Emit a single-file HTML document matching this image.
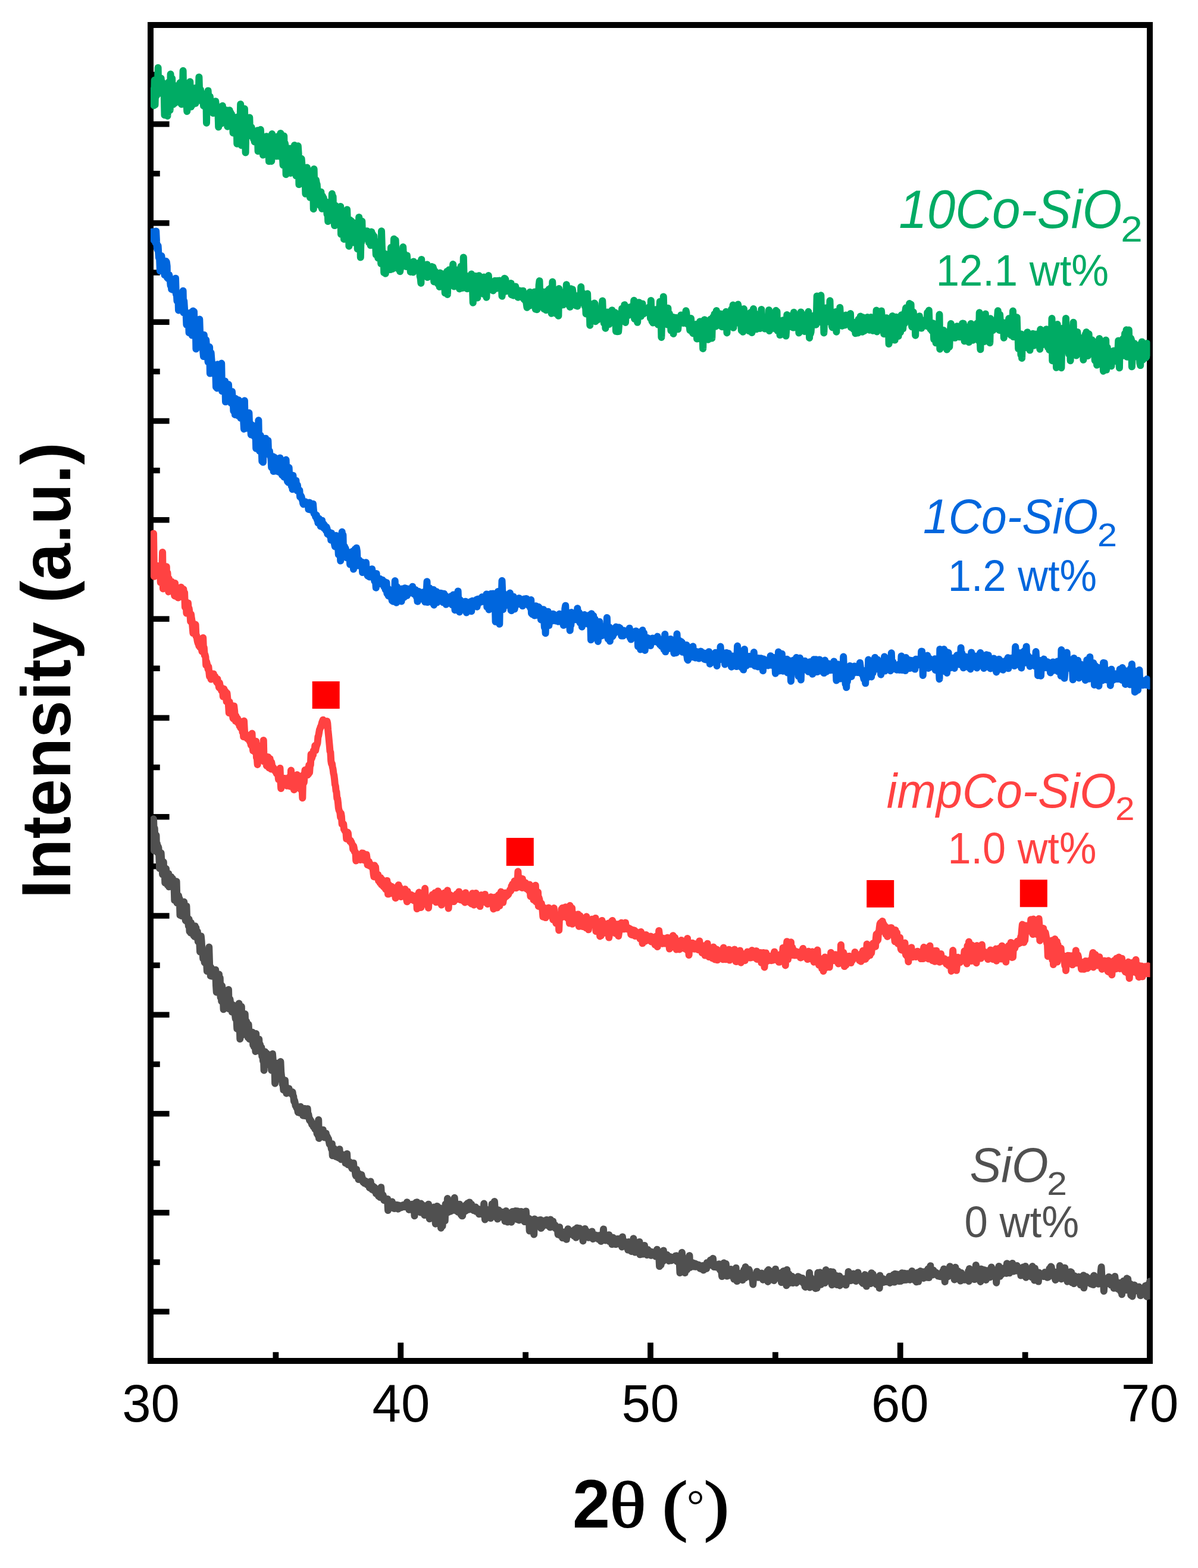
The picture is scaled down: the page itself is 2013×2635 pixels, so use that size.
<!DOCTYPE html>
<html><head><meta charset="utf-8"><title>XRD</title>
<style>
html,body{margin:0;padding:0;background:#fff;}
svg{display:block;}
.t{font-family:"Liberation Sans",Arial,sans-serif;}
.s{font-family:"Liberation Serif","Times New Roman",serif;}
text{font-kerning:none;}
</style></head><body>
<svg xmlns="http://www.w3.org/2000/svg" width="2013" height="2635" viewBox="0 0 2013 2635">
<rect width="2013" height="2635" fill="#fff"/>
<defs><clipPath id="clip"><rect x="253" y="42" width="1679.5" height="2245"/></clipPath></defs>
<rect x="253" y="42" width="1679" height="2245" fill="none" stroke="#000" stroke-width="10"/>
<g fill="#000">
<rect x="258" y="203.85" width="26.6" height="9.5"/>
<rect x="258" y="370.15" width="26.6" height="9.5"/>
<rect x="258" y="536.45" width="26.6" height="9.5"/>
<rect x="258" y="702.75" width="26.6" height="9.5"/>
<rect x="258" y="869.05" width="26.6" height="9.5"/>
<rect x="258" y="1035.35" width="26.6" height="9.5"/>
<rect x="258" y="1201.65" width="26.6" height="9.5"/>
<rect x="258" y="1367.95" width="26.6" height="9.5"/>
<rect x="258" y="1534.25" width="26.6" height="9.5"/>
<rect x="258" y="1700.55" width="26.6" height="9.5"/>
<rect x="258" y="1866.85" width="26.6" height="9.5"/>
<rect x="258" y="2033.15" width="26.6" height="9.5"/>
<rect x="258" y="2199.45" width="26.6" height="9.5"/>
<rect x="258" y="120.70" width="10.75" height="9.5"/>
<rect x="258" y="287.00" width="10.75" height="9.5"/>
<rect x="258" y="453.30" width="10.75" height="9.5"/>
<rect x="258" y="619.60" width="10.75" height="9.5"/>
<rect x="258" y="785.90" width="10.75" height="9.5"/>
<rect x="258" y="952.20" width="10.75" height="9.5"/>
<rect x="258" y="1118.50" width="10.75" height="9.5"/>
<rect x="258" y="1284.80" width="10.75" height="9.5"/>
<rect x="258" y="1451.10" width="10.75" height="9.5"/>
<rect x="258" y="1617.40" width="10.75" height="9.5"/>
<rect x="258" y="1783.70" width="10.75" height="9.5"/>
<rect x="258" y="1950.00" width="10.75" height="9.5"/>
<rect x="258" y="2116.30" width="10.75" height="9.5"/>
<rect x="668.35" y="2256.3" width="9.8" height="26"/>
<rect x="1088.10" y="2256.3" width="9.8" height="26"/>
<rect x="1507.85" y="2256.3" width="9.8" height="26"/>
<rect x="458.48" y="2272.2" width="9.8" height="10"/>
<rect x="878.23" y="2272.2" width="9.8" height="10"/>
<rect x="1297.97" y="2272.2" width="9.8" height="10"/>
<rect x="1717.72" y="2272.2" width="9.8" height="10"/>
</g>
<g clip-path="url(#clip)" fill="none" stroke-width="12" stroke-linejoin="round" stroke-linecap="round">
<path d="M258.0,1376.3 258.8,1399.9 259.0,1429.4 259.7,1391.8 260.5,1410.0 261.4,1407.5 262.2,1418.8 262.5,1403.6 263.0,1424.8 263.9,1417.6 264.7,1432.9 265.6,1422.5 266.4,1424.6 267.2,1435.7 268.1,1459.4 268.9,1432.3 269.0,1457.2 269.8,1453.8 270.6,1433.4 271.4,1447.1 272.3,1452.9 273.1,1469.5 274.0,1458.9 274.8,1448.6 275.0,1460.0 275.6,1460.9 276.5,1462.4 277.3,1483.7 278.2,1462.2 279.0,1460.0 279.8,1468.2 280.7,1471.8 281.5,1487.4 282.4,1473.3 283.2,1468.2 284.0,1490.3 284.9,1475.8 285.7,1480.8 286.6,1478.3 287.4,1473.3 288.2,1485.2 289.1,1488.9 289.9,1476.4 290.5,1484.3 290.8,1483.1 291.6,1479.3 292.4,1483.6 293.3,1513.0 294.1,1506.2 295.0,1494.6 295.8,1504.2 296.6,1481.3 297.5,1517.5 298.3,1506.2 299.2,1516.0 300.0,1505.2 300.8,1509.3 301.7,1510.3 302.5,1538.0 303.4,1515.2 304.2,1518.1 305.0,1539.1 305.9,1534.4 306.7,1521.0 307.6,1520.6 308.4,1533.8 309.2,1515.5 310.1,1527.4 310.9,1542.2 311.8,1547.0 312.6,1528.1 313.4,1522.7 314.3,1549.0 315.1,1549.0 316.0,1545.5 316.8,1556.2 317.6,1544.6 318.5,1565.3 319.3,1562.7 320.2,1567.5 321.0,1550.5 321.8,1568.2 322.7,1564.1 323.5,1567.5 324.4,1565.4 325.2,1572.1 326.0,1571.8 326.9,1573.9 327.7,1556.3 328.6,1567.4 329.4,1559.4 330.2,1573.8 331.1,1576.7 331.9,1566.1 332.8,1582.3 333.6,1579.9 334.4,1581.2 335.3,1584.0 336.1,1599.6 337.0,1585.9 337.8,1573.3 338.6,1581.5 339.5,1599.9 340.3,1597.2 341.2,1611.0 342.0,1610.2 342.8,1609.0 343.7,1617.7 344.5,1605.7 345.4,1610.4 346.2,1611.9 347.0,1615.9 347.9,1632.1 348.7,1627.7 349.6,1629.4 350.4,1624.8 351.2,1591.6 352.1,1620.4 352.9,1626.1 353.8,1640.0 354.6,1626.0 355.4,1630.6 356.3,1640.6 357.1,1629.2 358.0,1639.0 358.8,1636.4 359.6,1636.7 360.5,1640.5 361.3,1639.6 362.2,1629.7 363.0,1656.0 363.8,1667.5 364.7,1655.6 365.5,1645.8 366.4,1652.8 367.2,1658.3 368.0,1637.2 368.9,1662.5 369.7,1643.1 370.6,1676.0 371.4,1654.8 372.2,1682.7 373.1,1656.9 373.9,1664.9 374.8,1674.2 375.6,1696.3 376.4,1672.2 377.3,1678.1 378.1,1668.5 379.0,1677.3 379.8,1670.8 380.6,1689.9 381.5,1681.7 382.3,1674.4 383.2,1684.6 384.0,1663.0 384.8,1695.5 385.7,1685.5 386.5,1679.4 387.4,1686.8 388.2,1692.1 389.0,1689.5 389.9,1700.8 390.7,1689.2 391.6,1688.8 392.4,1691.8 393.2,1691.3 394.1,1697.3 394.9,1705.2 395.8,1712.2 396.6,1705.4 397.4,1711.4 398.3,1728.9 399.1,1711.2 400.0,1695.7 400.8,1713.3 401.6,1686.2 402.5,1716.6 403.3,1746.1 404.2,1715.0 405.0,1732.3 405.8,1691.4 406.7,1739.7 407.5,1710.7 408.4,1729.5 409.2,1717.4 410.0,1720.6 410.9,1713.0 411.7,1703.9 412.6,1731.3 413.4,1732.2 414.2,1716.6 415.1,1731.1 415.9,1724.6 416.8,1743.6 417.6,1721.5 418.4,1734.6 419.3,1746.2 420.1,1735.8 421.0,1739.7 421.8,1745.3 422.6,1743.0 423.5,1748.4 424.3,1734.7 425.2,1756.1 426.0,1743.6 426.8,1759.0 427.7,1750.0 428.5,1752.2 429.4,1766.9 430.2,1737.1 431.0,1761.6 431.9,1747.7 432.7,1761.4 433.6,1747.9 434.4,1755.1 435.2,1746.5 436.1,1765.5 436.9,1754.9 437.8,1759.9 438.6,1768.6 439.4,1760.4 440.3,1775.3 441.1,1765.2 442.0,1782.9 442.8,1773.3 443.6,1798.7 444.5,1773.8 445.3,1767.4 446.2,1772.5 447.0,1788.7 447.8,1788.1 448.7,1770.6 449.5,1771.9 450.4,1773.0 451.2,1781.1 452.0,1773.6 452.9,1785.0 453.7,1779.5 454.6,1791.3 455.4,1780.1 456.2,1798.7 457.1,1784.5 457.9,1771.0 458.8,1782.3 459.6,1797.1 460.4,1785.2 461.3,1789.1 462.1,1820.7 463.0,1795.3 463.8,1800.1 464.6,1800.0 465.5,1800.4 466.3,1812.7 467.2,1786.5 468.0,1803.4 468.8,1806.0 469.7,1811.3 470.5,1813.8 471.4,1784.1 472.2,1801.5 473.0,1809.0 473.9,1812.8 474.7,1822.3 475.6,1822.6 476.4,1831.7 477.2,1818.9 478.1,1820.3 478.9,1815.3 479.8,1831.9 480.6,1832.7 481.4,1837.4 482.3,1829.5 483.1,1833.9 484.0,1829.3 484.8,1834.1 485.6,1829.3 486.5,1834.2 487.3,1835.1 488.2,1834.7 489.0,1837.8 489.8,1837.0 490.7,1836.5 491.5,1835.1 492.4,1841.5 493.2,1842.4 494.0,1850.8 494.9,1849.2 495.7,1852.8 496.6,1858.3 497.4,1857.9 498.2,1861.3 499.1,1860.4 499.9,1864.3 500.8,1869.3 501.6,1862.8 502.4,1864.9 503.3,1870.0 504.1,1862.3 505.0,1859.7 505.8,1864.8 506.6,1869.0 507.5,1865.7 508.3,1863.8 509.2,1874.7 510.0,1866.5 510.8,1866.7 511.7,1862.9 512.5,1867.4 513.4,1875.2 514.2,1868.1 515.0,1870.6 515.9,1875.0 516.7,1863.3 517.6,1875.3 518.4,1873.0 519.2,1877.8 520.1,1882.6 520.9,1880.5 521.8,1884.6 522.6,1883.5 523.4,1887.3 524.3,1890.1 525.1,1890.4 526.0,1889.7 526.8,1893.9 527.6,1888.6 528.5,1892.2 529.3,1897.5 530.2,1895.3 531.0,1889.7 531.8,1898.8 532.7,1905.4 533.5,1894.1 534.4,1907.9 535.2,1881.8 536.0,1913.0 536.9,1903.5 537.7,1899.7 538.6,1898.1 539.4,1904.1 540.2,1904.8 541.1,1906.1 541.9,1906.5 542.8,1898.8 543.6,1904.2 544.4,1902.7 545.3,1911.5 546.1,1904.4 547.0,1909.8 547.8,1904.6 548.6,1910.2 549.5,1909.5 550.3,1910.8 551.2,1914.1 552.0,1914.1 552.8,1918.1 553.7,1922.8 554.5,1922.7 555.4,1923.9 556.2,1926.6 557.0,1931.3 557.9,1922.3 558.7,1942.1 559.6,1933.7 560.4,1939.5 561.2,1930.0 562.1,1934.9 562.9,1937.3 563.8,1937.9 564.6,1943.8 565.4,1937.4 566.3,1937.2 567.1,1940.6 568.0,1937.3 568.8,1945.6 569.6,1939.4 570.5,1931.2 571.3,1943.3 572.2,1941.0 573.0,1948.4 573.8,1940.0 574.7,1944.8 575.5,1946.0 576.4,1946.1 577.2,1940.7 578.0,1947.5 578.9,1944.0 579.7,1941.2 580.6,1954.8 581.4,1948.0 582.2,1944.3 583.1,1939.0 583.9,1956.6 584.8,1957.2 585.6,1955.9 586.4,1957.4 587.3,1952.6 588.1,1956.5 589.0,1959.4 589.8,1955.7 590.6,1961.6 591.5,1963.7 592.3,1961.9 593.2,1964.0 594.0,1954.6 594.8,1964.4 595.7,1965.1 596.5,1966.6 597.4,1974.4 598.2,1976.1 599.0,1965.2 599.9,1972.8 600.7,1970.7 601.6,1974.9 602.4,1982.1 603.2,1972.4 604.1,1975.6 604.9,1976.1 605.8,1979.0 606.6,1980.7 607.4,1974.3 608.3,1978.3 609.1,1980.3 610.0,1986.5 610.8,1983.8 611.6,1983.7 612.5,1988.5 613.3,1984.3 614.2,1986.9 615.0,1985.2 615.8,1985.9 616.7,1990.9 617.5,1990.3 618.4,1989.7 619.2,1987.1 620.0,1989.3 620.9,1996.1 621.7,1991.6 622.6,1985.5 623.4,1990.9 624.2,1994.6 625.1,1999.0 625.9,1995.0 626.8,1993.5 627.6,2000.2 628.4,1995.6 629.3,1995.6 630.1,1999.6 631.0,1999.8 631.8,2005.7 632.6,2000.8 633.5,2003.3 634.3,2002.4 635.2,2005.1 636.0,2010.2 636.8,1999.2 637.7,2011.2 638.5,2012.1 639.4,2006.3 640.2,1995.3 641.0,2008.6 641.9,2011.0 642.7,2007.7 643.6,2008.3 644.4,2011.1 645.2,2017.1 646.1,2014.4 646.9,2016.3 647.8,2016.4 648.6,2018.1 649.4,2017.4 650.3,2018.8 651.1,2014.9 652.0,2034.0 652.8,2018.2 653.6,2026.3 654.5,2025.0 655.3,2027.0 656.2,2024.9 657.0,2025.3 657.8,2023.9 658.7,2019.5 659.5,2026.3 660.4,2026.3 661.2,2024.6 662.0,2030.8 662.9,2031.0 663.7,2025.5 664.6,2026.2 665.4,2024.7 666.2,2028.0 667.1,2025.0 667.9,2026.2 668.8,2031.7 669.6,2025.4 670.4,2030.1 671.3,2027.8 672.1,2026.0 673.0,2029.4 673.8,2028.1 674.6,2029.2 675.5,2027.3 676.3,2027.0 677.2,2025.1 678.0,2025.4 678.8,2028.1 679.7,2027.7 680.5,2024.0 681.4,2026.3 682.2,2028.2 683.0,2023.6 683.9,2020.3 684.7,2029.2 685.6,2024.9 686.4,2028.1 687.2,2032.9 688.1,2025.0 688.9,2028.2 689.8,2026.7 690.6,2030.8 691.4,2028.8 692.3,2023.7 693.1,2030.9 694.0,2034.6 694.8,2031.6 695.6,2025.6 696.5,2043.3 697.3,2030.4 698.2,2027.3 699.0,2020.7 699.8,2028.8 700.7,2020.2 701.5,2023.2 702.4,2031.6 703.2,2033.5 704.0,2032.1 704.9,2031.0 705.7,2036.6 706.6,2037.5 707.4,2022.6 708.2,2035.9 709.1,2037.6 709.9,2035.3 710.8,2034.4 711.6,2038.2 712.4,2026.1 713.3,2041.9 714.1,2037.2 715.0,2038.1 715.8,2038.7 716.6,2037.1 717.5,2035.5 718.3,2034.7 719.2,2033.1 720.0,2023.7 720.8,2041.7 721.7,2048.3 722.5,2038.7 723.4,2034.6 724.2,2035.6 725.0,2040.8 725.9,2036.2 726.7,2035.2 727.6,2040.1 728.4,2033.3 729.2,2028.6 730.1,2034.8 730.9,2043.3 731.8,2056.7 732.6,2031.4 733.4,2040.1 734.3,2026.9 735.1,2037.8 736.0,2028.4 736.8,2032.4 737.6,2042.6 738.5,2030.1 739.3,2039.6 740.2,2038.0 741.0,2063.7 741.8,2046.0 742.7,2038.9 743.5,2060.4 744.4,2042.5 745.2,2033.6 746.0,2036.3 746.9,2044.0 747.7,2051.4 748.6,2023.4 749.4,2037.5 750.2,2031.1 751.1,2038.0 751.9,2014.1 752.8,2037.2 753.6,2033.6 754.4,2034.1 755.3,2031.7 756.1,2033.2 757.0,2035.7 757.8,2020.8 758.6,2027.3 759.5,2024.2 760.3,2027.8 761.2,2029.9 762.0,2028.4 762.8,2033.8 763.7,2012.8 764.5,2025.7 765.4,2025.4 766.2,2024.0 767.0,2033.8 767.9,2035.5 768.7,2032.2 769.6,2036.9 770.4,2033.3 771.2,2036.4 772.1,2023.7 772.9,2034.8 773.8,2026.4 774.6,2041.3 775.4,2039.6 776.3,2043.2 777.1,2043.3 778.0,2036.3 778.8,2029.2 779.6,2032.1 780.5,2035.4 781.3,2035.4 782.2,2035.0 783.0,2024.8 783.8,2025.2 784.7,2033.4 785.5,2022.3 786.4,2029.6 787.2,2028.3 788.0,2032.5 788.9,2020.4 789.7,2029.6 790.6,2025.6 791.4,2029.6 792.2,2024.0 793.1,2030.2 793.9,2032.5 794.8,2032.3 795.6,2034.0 796.4,2032.7 797.3,2032.5 798.1,2034.5 799.0,2028.4 799.8,2035.8 800.6,2030.5 801.5,2035.3 802.3,2035.9 803.2,2031.7 804.0,2034.6 804.8,2040.2 805.7,2039.3 806.5,2038.1 807.4,2039.8 808.2,2037.2 809.0,2037.9 809.9,2037.4 810.7,2040.7 811.6,2030.1 812.4,2041.7 813.2,2022.6 814.1,2036.1 814.9,2049.5 815.8,2034.4 816.6,2036.3 817.4,2033.0 818.3,2042.5 819.1,2033.1 820.0,2036.4 820.8,2035.8 821.6,2033.6 822.5,2037.9 823.3,2035.8 824.2,2047.3 825.0,2036.8 825.8,2039.9 826.7,2023.3 827.5,2042.6 828.4,2038.1 829.2,2034.5 830.0,2037.6 830.9,2019.0 831.7,2031.9 832.6,2040.5 833.4,2037.9 834.2,2045.8 835.1,2041.3 835.9,2048.5 836.8,2044.8 837.6,2033.6 838.4,2045.0 839.3,2042.4 840.1,2036.5 841.0,2035.9 841.8,2039.3 842.6,2045.2 843.5,2040.9 844.3,2042.4 845.2,2042.4 846.0,2043.8 846.8,2042.5 847.7,2036.5 848.5,2052.3 849.4,2044.3 850.2,2035.0 851.0,2041.1 851.9,2052.1 852.7,2053.6 853.6,2045.2 854.4,2044.2 855.2,2044.9 856.1,2043.5 856.9,2044.6 857.8,2045.2 858.6,2039.1 859.4,2053.7 860.3,2039.8 861.1,2036.0 862.0,2043.2 862.8,2040.5 863.6,2044.0 864.5,2037.0 865.3,2040.9 866.2,2034.9 867.0,2044.0 867.8,2036.4 868.7,2049.3 869.5,2035.3 870.4,2039.3 871.2,2038.6 872.0,2050.4 872.9,2039.2 873.7,2042.0 874.6,2048.1 875.4,2036.1 876.2,2043.2 877.1,2049.3 877.9,2042.1 878.8,2040.0 879.6,2046.6 880.4,2050.5 881.3,2053.0 882.1,2047.7 883.0,2045.0 883.8,2035.4 884.6,2048.9 885.5,2045.4 886.3,2051.3 887.2,2052.8 888.0,2053.0 888.8,2047.8 889.7,2068.6 890.5,2055.6 891.4,2053.8 892.2,2057.0 893.0,2064.0 893.9,2051.5 894.7,2057.7 895.6,2052.9 896.4,2052.9 897.2,2074.5 898.1,2048.4 898.9,2054.4 899.8,2058.8 900.6,2055.9 901.4,2053.3 902.3,2057.8 903.1,2051.4 904.0,2054.4 904.8,2054.3 905.6,2050.4 906.5,2051.0 907.3,2058.4 908.2,2049.9 909.0,2064.0 909.8,2053.1 910.7,2062.0 911.5,2055.5 912.4,2054.1 913.2,2057.1 914.0,2051.4 914.9,2054.3 915.7,2055.1 916.6,2055.0 917.4,2052.9 918.2,2049.9 919.1,2059.0 919.9,2057.5 920.8,2052.5 921.6,2056.0 922.4,2050.7 923.3,2051.9 924.1,2062.5 925.0,2049.5 925.8,2054.3 926.6,2056.3 927.5,2058.0 928.3,2061.7 929.2,2052.4 930.0,2059.4 930.8,2059.7 931.7,2059.5 932.5,2058.6 933.4,2064.4 934.2,2061.0 935.0,2063.7 935.9,2062.3 936.7,2063.9 937.6,2074.6 938.4,2063.5 939.2,2070.0 940.1,2062.2 940.9,2075.8 941.8,2069.9 942.6,2068.7 943.4,2073.3 944.3,2073.4 945.1,2080.3 946.0,2073.6 946.8,2074.4 947.6,2071.1 948.5,2075.0 949.3,2074.2 950.2,2071.6 951.0,2069.5 951.8,2082.8 952.7,2071.3 953.5,2074.6 954.4,2065.2 955.2,2069.8 956.0,2068.3 956.9,2073.4 957.7,2070.3 958.6,2074.3 959.4,2069.8 960.2,2069.5 961.1,2069.4 961.9,2068.4 962.8,2071.3 963.6,2070.7 964.4,2076.9 965.3,2069.3 966.1,2065.9 967.0,2075.6 967.8,2079.7 968.6,2070.6 969.5,2063.4 970.3,2070.3 971.2,2067.2 972.0,2069.6 972.8,2070.7 973.7,2064.3 974.5,2072.0 975.4,2072.3 976.2,2070.4 977.0,2067.9 977.9,2074.0 978.7,2074.9 979.6,2085.4 980.4,2075.0 981.2,2071.9 982.1,2072.2 982.9,2064.9 983.8,2070.7 984.6,2078.9 985.4,2068.9 986.3,2076.3 987.1,2074.5 988.0,2078.1 988.8,2079.8 989.6,2078.2 990.5,2079.4 991.3,2071.7 992.2,2073.9 993.0,2072.5 993.8,2076.5 994.7,2069.5 995.5,2080.5 996.4,2082.1 997.2,2080.9 998.0,2076.7 998.9,2078.1 999.7,2079.9 1000.6,2075.4 1001.4,2077.4 1002.2,2080.6 1003.1,2079.0 1003.9,2078.2 1004.8,2076.3 1005.6,2082.4 1006.4,2077.6 1007.3,2078.7 1008.1,2079.8 1009.0,2075.7 1009.8,2086.0 1010.6,2077.9 1011.5,2082.7 1012.3,2081.4 1013.2,2076.0 1014.0,2065.6 1014.8,2080.4 1015.7,2083.5 1016.5,2076.2 1017.4,2084.6 1018.2,2078.1 1019.0,2080.6 1019.9,2077.0 1020.7,2078.1 1021.6,2083.2 1022.4,2084.7 1023.2,2075.2 1024.1,2086.5 1024.9,2083.4 1025.8,2083.7 1026.6,2083.5 1027.4,2079.3 1028.3,2091.1 1029.1,2088.3 1030.0,2079.7 1030.8,2082.8 1031.6,2081.5 1032.5,2084.1 1033.3,2084.2 1034.2,2091.0 1035.0,2085.9 1035.8,2090.9 1036.7,2088.2 1037.5,2082.0 1038.4,2087.1 1039.2,2085.8 1040.0,2082.0 1040.9,2085.7 1041.7,2086.8 1042.6,2082.5 1043.4,2089.4 1044.2,2091.3 1045.1,2095.4 1045.9,2078.4 1046.8,2086.3 1047.6,2085.3 1048.4,2085.4 1049.3,2089.4 1050.1,2089.3 1051.0,2090.9 1051.8,2092.4 1052.6,2091.1 1053.5,2094.1 1054.3,2095.1 1055.2,2100.5 1056.0,2086.9 1056.8,2093.8 1057.7,2098.9 1058.5,2098.3 1059.4,2094.1 1060.2,2099.8 1061.0,2102.9 1061.9,2100.6 1062.7,2092.5 1063.6,2100.9 1064.4,2081.2 1065.2,2100.0 1066.1,2100.6 1066.9,2104.5 1067.8,2097.7 1068.6,2100.4 1069.4,2099.5 1070.3,2092.0 1071.1,2099.5 1072.0,2103.7 1072.8,2103.6 1073.6,2096.2 1074.5,2086.9 1075.3,2108.3 1076.2,2103.5 1077.0,2094.3 1077.8,2102.9 1078.7,2098.7 1079.5,2104.5 1080.4,2107.6 1081.2,2101.1 1082.0,2106.5 1082.9,2092.9 1083.7,2099.8 1084.6,2101.9 1085.4,2102.8 1086.2,2102.7 1087.1,2109.0 1087.9,2101.2 1088.8,2100.1 1089.6,2108.0 1090.4,2104.6 1091.3,2105.5 1092.1,2104.5 1093.0,2106.1 1093.8,2109.8 1094.6,2103.7 1095.5,2106.8 1096.3,2105.6 1097.2,2108.5 1098.0,2107.2 1098.8,2107.7 1099.7,2108.3 1100.5,2108.7 1101.4,2111.2 1102.2,2105.9 1103.0,2110.1 1103.9,2099.8 1104.7,2111.6 1105.6,2108.5 1106.4,2114.0 1107.2,2110.5 1108.1,2128.1 1108.9,2116.9 1109.8,2112.6 1110.6,2125.5 1111.4,2119.2 1112.3,2110.3 1113.1,2116.3 1114.0,2119.4 1114.8,2101.4 1115.6,2109.9 1116.5,2111.3 1117.3,2115.2 1118.2,2114.7 1119.0,2108.9 1119.8,2109.5 1120.7,2108.6 1121.5,2113.0 1122.4,2111.7 1123.2,2112.9 1124.0,2118.9 1124.9,2113.0 1125.7,2111.9 1126.6,2112.1 1127.4,2113.3 1128.2,2118.3 1129.1,2112.9 1129.9,2116.5 1130.8,2116.0 1131.6,2115.7 1132.4,2115.5 1133.3,2115.9 1134.1,2115.3 1135.0,2110.5 1135.8,2117.5 1136.6,2110.2 1137.5,2120.0 1138.3,2114.1 1139.2,2119.9 1140.0,2118.8 1140.8,2116.9 1141.7,2121.2 1142.5,2139.1 1143.4,2120.0 1144.2,2120.3 1145.0,2120.8 1145.9,2104.8 1146.7,2116.6 1147.6,2124.9 1148.4,2113.7 1149.2,2117.9 1150.1,2133.2 1150.9,2139.0 1151.8,2120.8 1152.6,2116.1 1153.4,2125.1 1154.3,2133.6 1155.1,2121.9 1156.0,2125.3 1156.8,2119.8 1157.6,2125.6 1158.5,2109.9 1159.3,2130.0 1160.2,2122.6 1161.0,2123.5 1161.8,2124.2 1162.7,2123.1 1163.5,2122.8 1164.4,2122.1 1165.2,2124.2 1166.0,2128.5 1166.9,2127.2 1167.7,2123.3 1168.6,2126.6 1169.4,2128.7 1170.2,2124.5 1171.1,2127.0 1171.9,2127.4 1172.8,2128.5 1173.6,2125.5 1174.4,2128.9 1175.3,2129.3 1176.1,2131.5 1177.0,2130.9 1177.8,2132.3 1178.6,2129.7 1179.5,2130.2 1180.3,2126.9 1181.2,2130.5 1182.0,2134.4 1182.8,2130.0 1183.7,2129.6 1184.5,2127.8 1185.4,2132.2 1186.2,2128.5 1187.0,2132.0 1187.9,2121.9 1188.7,2127.3 1189.6,2124.5 1190.4,2121.9 1191.2,2124.1 1192.1,2126.0 1192.9,2119.1 1193.8,2117.5 1194.6,2126.0 1195.4,2123.7 1196.3,2124.4 1197.1,2119.4 1198.0,2114.8 1198.8,2125.0 1199.6,2129.0 1200.5,2125.1 1201.3,2127.9 1202.2,2126.8 1203.0,2125.4 1203.8,2129.6 1204.7,2126.7 1205.5,2130.0 1206.4,2128.1 1207.2,2128.4 1208.0,2124.2 1208.9,2129.5 1209.7,2134.0 1210.6,2133.5 1211.4,2134.8 1212.2,2136.3 1213.1,2145.0 1213.9,2134.7 1214.8,2135.2 1215.6,2138.5 1216.4,2122.3 1217.3,2135.8 1218.1,2135.2 1219.0,2138.4 1219.8,2123.8 1220.6,2136.2 1221.5,2144.6 1222.3,2134.5 1223.2,2141.0 1224.0,2141.1 1224.8,2135.9 1225.7,2133.6 1226.5,2141.4 1227.4,2134.1 1228.2,2132.9 1229.0,2144.1 1229.9,2138.9 1230.7,2140.9 1231.6,2138.7 1232.4,2140.1 1233.2,2149.6 1234.1,2142.0 1234.9,2142.5 1235.8,2141.0 1236.6,2130.8 1237.4,2144.0 1238.3,2153.1 1239.1,2139.1 1240.0,2143.1 1240.8,2142.4 1241.6,2143.1 1242.5,2142.3 1243.3,2143.5 1244.2,2142.1 1245.0,2142.9 1245.8,2139.6 1246.7,2146.4 1247.5,2151.2 1248.4,2141.8 1249.2,2138.4 1250.0,2134.0 1250.9,2144.3 1251.7,2147.7 1252.6,2129.0 1253.4,2140.1 1254.2,2137.1 1255.1,2140.1 1255.9,2136.9 1256.8,2134.1 1257.6,2143.5 1258.4,2133.5 1259.3,2135.8 1260.1,2142.0 1261.0,2144.2 1261.8,2146.8 1262.6,2143.9 1263.5,2143.2 1264.3,2149.0 1265.2,2158.5 1266.0,2148.9 1266.8,2148.5 1267.7,2142.8 1268.5,2143.3 1269.4,2142.8 1270.2,2142.4 1271.0,2142.7 1271.9,2136.7 1272.7,2144.4 1273.6,2144.8 1274.4,2146.8 1275.2,2144.4 1276.1,2140.3 1276.9,2143.5 1277.8,2143.6 1278.6,2140.3 1279.4,2146.9 1280.3,2139.6 1281.1,2141.4 1282.0,2150.7 1282.8,2145.4 1283.6,2147.3 1284.5,2141.4 1285.3,2145.1 1286.2,2140.0 1287.0,2141.7 1287.8,2142.2 1288.7,2145.9 1289.5,2135.9 1290.4,2153.9 1291.2,2133.8 1292.0,2145.5 1292.9,2138.5 1293.7,2135.9 1294.6,2149.2 1295.4,2141.4 1296.2,2147.4 1297.1,2141.1 1297.9,2138.6 1298.8,2139.9 1299.6,2143.3 1300.4,2152.0 1301.3,2142.2 1302.1,2143.0 1303.0,2132.7 1303.8,2143.5 1304.6,2142.6 1305.5,2142.7 1306.3,2144.9 1307.2,2147.8 1308.0,2141.1 1308.8,2142.9 1309.7,2144.8 1310.5,2149.4 1311.4,2145.3 1312.2,2138.9 1313.0,2155.1 1313.9,2142.9 1314.7,2147.3 1315.6,2150.4 1316.4,2136.0 1317.2,2148.9 1318.1,2151.4 1318.9,2148.8 1319.8,2148.3 1320.6,2144.4 1321.4,2160.3 1322.3,2133.7 1323.1,2157.3 1324.0,2152.7 1324.8,2155.5 1325.6,2141.1 1326.5,2156.1 1327.3,2153.8 1328.2,2153.5 1329.0,2148.9 1329.8,2148.2 1330.7,2144.8 1331.5,2155.3 1332.4,2156.0 1333.2,2146.7 1334.0,2147.3 1334.9,2150.8 1335.7,2149.2 1336.6,2152.1 1337.4,2154.3 1338.2,2155.9 1339.1,2148.4 1339.9,2151.9 1340.8,2145.2 1341.6,2151.7 1342.4,2147.7 1343.3,2146.3 1344.1,2151.3 1345.0,2149.0 1345.8,2147.7 1346.6,2148.3 1347.5,2154.2 1348.3,2148.0 1349.2,2150.1 1350.0,2156.4 1350.8,2152.3 1351.7,2150.9 1352.5,2162.1 1353.4,2163.0 1354.2,2153.4 1355.0,2152.1 1355.9,2155.8 1356.7,2158.1 1357.6,2152.9 1358.4,2157.3 1359.2,2158.5 1360.1,2138.7 1360.9,2163.5 1361.8,2146.2 1362.6,2151.9 1363.4,2159.9 1364.3,2161.6 1365.1,2149.7 1366.0,2152.3 1366.8,2156.4 1367.6,2162.6 1368.5,2157.4 1369.3,2152.5 1370.2,2165.2 1371.0,2152.0 1371.8,2152.4 1372.7,2164.4 1373.5,2150.5 1374.4,2138.7 1375.2,2150.5 1376.0,2155.8 1376.9,2153.6 1377.7,2138.3 1378.6,2149.0 1379.4,2158.7 1380.2,2157.0 1381.1,2152.0 1381.9,2149.8 1382.8,2153.8 1383.6,2140.0 1384.4,2152.0 1385.3,2154.7 1386.1,2155.9 1387.0,2149.5 1387.8,2134.0 1388.6,2151.3 1389.5,2152.6 1390.3,2152.5 1391.2,2146.8 1392.0,2149.5 1392.8,2152.0 1393.7,2147.6 1394.5,2151.4 1395.4,2136.9 1396.2,2152.6 1397.0,2151.6 1397.9,2159.2 1398.7,2158.1 1399.6,2137.5 1400.4,2151.2 1401.2,2147.7 1402.1,2151.8 1402.9,2151.8 1403.8,2143.3 1404.6,2151.1 1405.4,2152.0 1406.3,2159.0 1407.1,2155.3 1408.0,2154.3 1408.8,2150.6 1409.6,2158.3 1410.5,2144.4 1411.3,2160.4 1412.2,2158.8 1413.0,2151.1 1413.8,2148.2 1414.7,2155.5 1415.5,2156.0 1416.4,2155.3 1417.2,2156.8 1418.0,2157.4 1418.9,2148.9 1419.7,2154.6 1420.6,2149.9 1421.4,2159.6 1422.2,2155.8 1423.1,2153.3 1423.9,2151.0 1424.8,2153.1 1425.6,2137.0 1426.4,2151.9 1427.3,2144.9 1428.1,2148.9 1429.0,2148.4 1429.8,2151.9 1430.6,2145.8 1431.5,2146.6 1432.3,2146.2 1433.2,2148.6 1434.0,2140.4 1434.8,2149.9 1435.7,2144.7 1436.5,2149.6 1437.4,2152.3 1438.2,2153.0 1439.0,2143.9 1439.9,2151.1 1440.7,2149.0 1441.6,2138.4 1442.4,2143.6 1443.2,2143.0 1444.1,2146.5 1444.9,2147.3 1445.8,2148.9 1446.6,2149.5 1447.4,2147.5 1448.3,2155.1 1449.1,2151.5 1450.0,2156.8 1450.8,2150.5 1451.6,2149.3 1452.5,2149.9 1453.3,2142.1 1454.2,2149.5 1455.0,2145.7 1455.8,2161.6 1456.7,2154.8 1457.5,2147.2 1458.4,2150.4 1459.2,2152.0 1460.0,2152.3 1460.9,2151.2 1461.7,2150.6 1462.6,2157.1 1463.4,2149.9 1464.2,2139.2 1465.1,2154.7 1465.9,2155.4 1466.8,2141.4 1467.6,2151.0 1468.4,2152.8 1469.3,2149.3 1470.1,2156.1 1471.0,2148.3 1471.8,2153.3 1472.6,2158.5 1473.5,2157.2 1474.3,2148.5 1475.2,2151.2 1476.0,2146.9 1476.8,2152.7 1477.7,2164.8 1478.5,2143.4 1479.4,2153.0 1480.2,2153.3 1481.0,2153.6 1481.9,2151.8 1482.7,2154.5 1483.6,2148.9 1484.4,2154.9 1485.2,2152.4 1486.1,2153.5 1486.9,2154.0 1487.8,2151.0 1488.6,2150.4 1489.4,2154.0 1490.3,2150.6 1491.1,2151.0 1492.0,2151.4 1492.8,2148.0 1493.6,2153.2 1494.5,2145.0 1495.3,2155.9 1496.2,2150.3 1497.0,2147.0 1497.8,2151.0 1498.7,2151.1 1499.5,2148.1 1500.4,2149.1 1501.2,2142.3 1502.0,2148.1 1502.9,2154.6 1503.7,2140.7 1504.6,2147.5 1505.4,2149.6 1506.2,2146.6 1507.1,2141.4 1507.9,2147.5 1508.8,2152.0 1509.6,2150.1 1510.4,2153.1 1511.3,2143.3 1512.1,2146.0 1513.0,2151.9 1513.8,2152.9 1514.6,2147.4 1515.5,2139.2 1516.3,2147.8 1517.2,2150.4 1518.0,2146.8 1518.8,2151.0 1519.7,2139.7 1520.5,2148.8 1521.4,2143.5 1522.2,2150.9 1523.0,2147.2 1523.9,2149.1 1524.7,2140.3 1525.6,2148.7 1526.4,2142.8 1527.2,2147.1 1528.1,2147.7 1528.9,2150.7 1529.8,2146.9 1530.6,2141.8 1531.4,2149.1 1532.3,2136.1 1533.1,2141.2 1534.0,2147.8 1534.8,2147.7 1535.6,2138.8 1536.5,2139.9 1537.3,2151.8 1538.2,2149.9 1539.0,2146.1 1539.8,2154.3 1540.7,2141.6 1541.5,2151.5 1542.4,2138.3 1543.2,2153.5 1544.0,2146.1 1544.9,2143.3 1545.7,2140.0 1546.6,2136.1 1547.4,2142.1 1548.2,2145.7 1549.1,2143.9 1549.9,2141.7 1550.8,2137.6 1551.6,2148.0 1552.4,2137.5 1553.3,2137.2 1554.1,2141.9 1555.0,2139.8 1555.8,2137.4 1556.6,2136.7 1557.5,2146.7 1558.3,2138.7 1559.2,2132.6 1560.0,2137.3 1560.8,2147.1 1561.7,2133.9 1562.5,2139.6 1563.4,2127.3 1564.2,2141.8 1565.0,2138.7 1565.9,2141.5 1566.7,2142.6 1567.6,2140.3 1568.4,2134.8 1569.2,2138.6 1570.1,2139.6 1570.9,2141.6 1571.8,2138.9 1572.6,2138.4 1573.4,2138.8 1574.3,2140.4 1575.1,2141.6 1576.0,2144.3 1576.8,2140.9 1577.6,2142.7 1578.5,2144.9 1579.3,2141.2 1580.2,2145.2 1581.0,2140.9 1581.8,2141.0 1582.7,2141.0 1583.5,2137.7 1584.4,2135.8 1585.2,2142.7 1586.0,2132.4 1586.9,2141.2 1587.7,2153.9 1588.6,2140.2 1589.4,2143.3 1590.2,2140.3 1591.1,2139.8 1591.9,2143.2 1592.8,2145.3 1593.6,2137.6 1594.4,2143.4 1595.3,2139.4 1596.1,2128.2 1597.0,2140.8 1597.8,2143.1 1598.6,2140.7 1599.5,2142.7 1600.3,2142.9 1601.2,2140.7 1602.0,2142.2 1602.8,2140.0 1603.7,2150.5 1604.5,2142.7 1605.4,2129.7 1606.2,2144.7 1607.0,2143.9 1607.9,2144.3 1608.7,2140.5 1609.6,2135.8 1610.4,2142.0 1611.2,2140.1 1612.1,2140.5 1612.9,2138.5 1613.8,2152.6 1614.6,2141.4 1615.4,2139.0 1616.3,2142.3 1617.1,2147.0 1618.0,2144.3 1618.8,2148.2 1619.6,2149.8 1620.5,2150.8 1621.3,2148.9 1622.2,2147.6 1623.0,2145.0 1623.8,2146.2 1624.7,2145.2 1625.5,2143.5 1626.4,2149.8 1627.2,2136.1 1628.0,2153.1 1628.9,2132.0 1629.7,2143.2 1630.6,2143.3 1631.4,2147.0 1632.2,2144.5 1633.1,2139.0 1633.9,2148.9 1634.8,2149.1 1635.6,2139.7 1636.4,2141.0 1637.3,2150.0 1638.1,2139.3 1639.0,2144.7 1639.8,2126.0 1640.6,2131.4 1641.5,2145.6 1642.3,2137.8 1643.2,2138.3 1644.0,2137.8 1644.8,2136.0 1645.7,2138.1 1646.5,2150.3 1647.4,2153.9 1648.2,2132.5 1649.0,2138.7 1649.9,2138.3 1650.7,2133.2 1651.6,2135.5 1652.4,2136.0 1653.2,2133.9 1654.1,2141.5 1654.9,2143.2 1655.8,2139.4 1656.6,2150.9 1657.4,2149.2 1658.3,2135.3 1659.1,2139.1 1660.0,2135.8 1660.8,2138.5 1661.6,2137.8 1662.5,2138.5 1663.3,2146.4 1664.2,2142.2 1665.0,2136.7 1665.8,2129.5 1666.7,2139.8 1667.5,2137.6 1668.4,2139.6 1669.2,2138.0 1670.0,2134.0 1670.9,2134.8 1671.7,2136.8 1672.6,2142.4 1673.4,2137.3 1674.2,2155.7 1675.1,2142.8 1675.9,2146.4 1676.8,2139.2 1677.6,2139.2 1678.4,2128.0 1679.3,2140.0 1680.1,2144.9 1681.0,2131.5 1681.8,2138.2 1682.6,2142.1 1683.5,2141.3 1684.3,2139.2 1685.2,2136.1 1686.0,2134.3 1686.8,2134.0 1687.7,2130.8 1688.5,2137.3 1689.4,2134.7 1690.2,2137.5 1691.0,2139.8 1691.9,2123.3 1692.7,2132.8 1693.6,2134.8 1694.4,2134.1 1695.2,2134.9 1696.1,2139.3 1696.9,2131.2 1697.8,2133.8 1698.6,2128.5 1699.4,2133.4 1700.3,2133.2 1701.1,2123.0 1702.0,2131.9 1702.8,2136.5 1703.6,2133.4 1704.5,2132.9 1705.3,2133.0 1706.2,2135.5 1707.0,2128.0 1707.8,2133.3 1708.7,2126.9 1709.5,2135.6 1710.4,2132.1 1711.2,2130.7 1712.0,2131.8 1712.9,2133.9 1713.7,2136.8 1714.6,2135.0 1715.4,2143.6 1716.2,2131.3 1717.1,2130.5 1717.9,2134.6 1718.8,2129.6 1719.6,2131.6 1720.4,2136.7 1721.3,2140.7 1722.1,2138.6 1723.0,2128.0 1723.8,2146.7 1724.6,2141.2 1725.5,2139.1 1726.3,2139.5 1727.2,2137.4 1728.0,2137.0 1728.8,2141.3 1729.7,2134.9 1730.5,2143.9 1731.4,2140.2 1732.2,2141.3 1733.0,2141.9 1733.9,2146.6 1734.7,2128.1 1735.6,2141.4 1736.4,2135.6 1737.2,2136.8 1738.1,2151.6 1738.9,2131.5 1739.8,2136.7 1740.6,2147.0 1741.4,2144.0 1742.3,2137.6 1743.1,2151.0 1744.0,2144.1 1744.8,2153.6 1745.6,2138.4 1746.5,2146.0 1747.3,2140.0 1748.2,2141.2 1749.0,2143.2 1749.8,2144.4 1750.7,2144.6 1751.5,2144.2 1752.4,2143.6 1753.2,2142.5 1754.0,2145.1 1754.9,2143.7 1755.7,2138.1 1756.6,2139.0 1757.4,2144.0 1758.2,2141.2 1759.1,2138.1 1759.9,2146.8 1760.8,2139.4 1761.6,2145.9 1762.4,2139.7 1763.3,2132.0 1764.1,2140.3 1765.0,2137.9 1765.8,2128.5 1766.6,2129.1 1767.5,2135.8 1768.3,2143.4 1769.2,2138.2 1770.0,2141.8 1770.8,2138.2 1771.7,2137.4 1772.5,2146.8 1773.4,2151.0 1774.2,2138.2 1775.0,2144.5 1775.9,2139.3 1776.7,2139.3 1777.6,2143.5 1778.4,2142.7 1779.2,2142.7 1780.1,2145.6 1780.9,2126.9 1781.8,2148.6 1782.6,2142.5 1783.4,2149.4 1784.3,2146.8 1785.1,2142.9 1786.0,2142.6 1786.8,2147.0 1787.6,2146.6 1788.5,2139.1 1789.3,2130.6 1790.2,2143.4 1791.0,2144.3 1791.8,2137.1 1792.7,2149.5 1793.5,2153.7 1794.4,2147.7 1795.2,2146.6 1796.0,2144.0 1796.9,2141.7 1797.7,2149.2 1798.6,2137.3 1799.4,2151.0 1800.2,2138.0 1801.1,2155.3 1801.9,2150.1 1802.8,2152.2 1803.6,2154.7 1804.4,2157.0 1805.3,2143.9 1806.1,2147.0 1807.0,2154.9 1807.8,2146.5 1808.6,2149.0 1809.5,2150.4 1810.3,2152.4 1811.2,2150.7 1812.0,2150.7 1812.8,2145.6 1813.7,2153.8 1814.5,2151.0 1815.4,2159.2 1816.2,2150.4 1817.0,2152.4 1817.9,2146.2 1818.7,2150.0 1819.6,2147.4 1820.4,2143.2 1821.2,2164.3 1822.1,2158.5 1822.9,2146.3 1823.8,2150.3 1824.6,2152.7 1825.4,2145.5 1826.3,2146.7 1827.1,2155.2 1828.0,2148.9 1828.8,2149.8 1829.6,2152.9 1830.5,2149.9 1831.3,2150.9 1832.2,2148.6 1833.0,2157.7 1833.8,2155.6 1834.7,2150.1 1835.5,2154.3 1836.4,2158.8 1837.2,2158.9 1838.0,2143.6 1838.9,2151.4 1839.7,2152.3 1840.6,2149.5 1841.4,2150.3 1842.2,2150.7 1843.1,2151.6 1843.9,2153.4 1844.8,2157.0 1845.6,2157.8 1846.4,2155.8 1847.3,2153.7 1848.1,2147.2 1849.0,2151.2 1849.8,2136.1 1850.6,2129.3 1851.5,2147.4 1852.3,2151.5 1853.2,2151.4 1854.0,2152.0 1854.8,2169.8 1855.7,2156.5 1856.5,2149.6 1857.4,2148.7 1858.2,2151.5 1859.0,2150.8 1859.9,2149.7 1860.7,2157.1 1861.6,2155.3 1862.4,2148.7 1863.2,2145.7 1864.1,2155.2 1864.9,2157.6 1865.8,2153.6 1866.6,2159.4 1867.4,2155.8 1868.3,2154.8 1869.1,2151.5 1870.0,2154.2 1870.8,2157.0 1871.6,2164.8 1872.5,2155.7 1873.3,2145.0 1874.2,2154.0 1875.0,2160.2 1875.8,2158.9 1876.7,2154.8 1877.5,2158.5 1878.4,2166.0 1879.2,2155.6 1880.0,2162.7 1880.9,2158.5 1881.7,2157.2 1882.6,2169.6 1883.4,2158.8 1884.2,2158.5 1885.1,2175.2 1885.9,2159.1 1886.8,2156.6 1887.6,2152.7 1888.4,2165.0 1889.3,2164.9 1890.1,2159.6 1891.0,2163.1 1891.8,2163.5 1892.6,2167.9 1893.5,2148.3 1894.3,2161.3 1895.2,2149.6 1896.0,2158.2 1896.8,2164.2 1897.7,2164.8 1898.5,2161.8 1899.4,2157.6 1900.2,2176.5 1901.0,2161.9 1901.9,2177.1 1902.7,2178.5 1903.6,2168.7 1904.4,2163.2 1905.2,2163.4 1906.1,2159.6 1906.9,2167.8 1907.8,2169.3 1908.6,2168.0 1909.4,2167.2 1910.3,2166.0 1911.1,2167.1 1912.0,2163.4 1912.8,2167.4 1913.6,2162.5 1914.5,2170.1 1915.3,2164.5 1916.2,2177.2 1917.0,2166.3 1917.8,2171.4 1918.7,2169.2 1919.5,2166.5 1920.4,2174.0 1921.2,2170.7 1922.0,2174.5 1922.9,2167.2 1923.7,2163.9 1924.6,2160.7 1925.4,2168.2 1926.2,2162.1 1927.1,2178.9 1927.9,2159.6 1928.8,2171.9 1929.6,2171.7 1930.4,2167.6 1931.3,2177.8 1932.1,2153.2 1932.5,2168.6" stroke="#505050"/>
<path d="M258.0,896.5 258.8,951.8 259.0,968.7 259.7,965.3 260.5,956.1 261.4,962.6 262.2,962.4 263.0,955.4 263.9,965.4 264.7,951.1 265.6,958.5 266.4,959.9 267.2,957.9 268.1,959.9 268.9,963.3 269.8,978.8 270.0,951.9 270.6,961.2 271.4,964.0 272.3,956.4 273.1,927.9 274.0,989.4 274.8,961.2 275.6,963.2 276.5,981.4 277.3,971.7 278.2,971.2 279.0,979.6 279.8,952.3 280.0,979.3 280.7,973.4 281.5,963.0 282.4,980.7 283.2,994.4 284.0,972.4 284.9,982.8 285.7,977.2 286.6,987.5 287.4,987.8 288.2,977.4 289.1,993.6 289.9,988.9 290.0,989.6 290.8,995.2 291.6,987.1 292.4,995.1 293.3,1001.3 294.1,980.1 295.0,1001.9 295.8,992.6 296.6,995.2 297.0,987.4 297.5,999.3 298.3,991.8 299.2,1004.4 300.0,990.9 300.8,995.4 301.7,992.7 302.5,995.6 303.4,987.6 304.2,986.8 305.0,997.2 305.9,996.9 306.7,993.2 307.6,1003.3 308.4,990.3 309.2,1005.8 310.1,995.8 310.9,1020.3 311.8,1010.2 312.6,1013.2 313.4,1030.5 314.3,1023.0 315.1,1026.3 316.0,1013.5 316.8,1026.7 317.6,1022.5 318.5,1028.6 319.3,1031.2 320.2,1044.5 321.0,1032.4 321.8,1039.1 322.7,1044.0 323.5,1053.2 324.4,1064.1 325.2,1054.0 326.0,1048.7 326.9,1057.5 327.7,1063.2 328.6,1049.6 329.4,1069.0 330.2,1067.6 331.1,1073.7 331.9,1078.1 332.8,1081.2 333.6,1082.1 334.4,1085.6 335.3,1081.6 336.1,1087.7 337.0,1080.0 337.8,1088.6 338.6,1089.9 339.5,1094.8 340.3,1089.1 341.2,1071.7 342.0,1092.0 342.8,1088.3 343.7,1101.3 344.5,1100.1 345.4,1103.9 346.2,1117.8 347.0,1112.0 347.9,1115.5 348.7,1119.5 349.6,1124.8 350.4,1120.6 351.2,1128.6 352.1,1136.9 352.9,1130.5 353.8,1133.7 354.6,1141.6 355.4,1137.7 356.3,1136.4 357.1,1138.8 358.0,1139.9 358.8,1132.5 359.6,1136.5 360.5,1136.1 361.3,1136.5 362.2,1142.1 363.0,1140.9 363.8,1145.9 364.7,1147.2 365.5,1141.1 366.4,1149.2 367.2,1150.3 368.0,1155.3 368.9,1147.6 369.7,1152.1 370.6,1157.7 371.4,1157.5 372.2,1160.9 373.1,1158.3 373.9,1156.8 374.8,1170.7 375.6,1159.3 376.4,1157.8 377.3,1161.5 378.1,1163.3 379.0,1162.1 379.8,1167.2 380.6,1179.1 381.5,1165.1 382.3,1173.3 383.2,1178.6 384.0,1185.6 384.8,1198.1 385.7,1179.8 386.5,1187.5 387.4,1194.9 388.2,1184.9 389.0,1195.6 389.9,1194.4 390.7,1201.5 391.6,1207.4 392.4,1201.7 393.2,1186.6 394.1,1195.0 394.9,1204.1 395.8,1211.7 396.6,1203.5 397.4,1210.6 398.3,1208.4 399.1,1207.1 400.0,1215.1 400.8,1210.5 401.6,1213.0 402.5,1220.2 403.3,1217.3 404.2,1223.1 405.0,1220.3 405.8,1215.8 406.7,1222.2 407.5,1230.5 408.4,1226.1 409.2,1238.3 410.0,1211.6 410.9,1228.1 411.7,1233.9 412.6,1234.0 413.4,1234.1 414.2,1236.4 415.1,1240.9 415.9,1239.4 416.8,1239.6 417.6,1241.1 418.4,1243.8 419.3,1241.3 420.1,1246.9 421.0,1247.6 421.8,1252.3 422.6,1248.7 423.5,1232.4 424.3,1252.3 425.2,1261.7 426.0,1256.9 426.8,1258.5 427.7,1255.5 428.5,1256.1 429.4,1264.9 430.2,1245.7 431.0,1273.2 431.9,1274.4 432.7,1284.9 433.6,1253.5 434.4,1253.0 435.2,1278.1 436.1,1264.6 436.9,1262.1 437.8,1265.6 438.6,1271.4 439.4,1260.3 440.3,1269.6 441.1,1273.5 442.0,1275.6 442.8,1243.9 443.6,1279.9 444.5,1272.3 445.3,1273.1 446.2,1275.9 447.0,1271.7 447.8,1286.7 448.7,1271.7 449.5,1278.8 450.4,1272.3 451.2,1281.6 452.0,1290.4 452.9,1290.0 453.7,1275.2 454.6,1284.9 455.4,1292.4 456.2,1281.0 457.1,1286.0 457.9,1290.7 458.8,1292.3 459.6,1290.2 460.4,1293.3 461.3,1294.8 462.1,1293.1 463.0,1297.0 463.8,1297.5 464.6,1299.9 465.5,1299.5 466.3,1299.2 467.2,1301.2 468.0,1309.8 468.8,1300.3 469.7,1300.4 470.5,1291.1 471.4,1312.6 472.2,1325.1 473.0,1306.4 473.9,1308.0 474.7,1307.7 475.6,1313.5 476.4,1312.2 477.2,1317.3 478.1,1307.9 478.9,1319.1 479.8,1311.7 480.6,1316.7 481.4,1316.5 482.3,1320.6 483.1,1311.7 484.0,1312.9 484.8,1312.2 485.6,1306.4 486.5,1311.4 487.3,1321.4 488.2,1320.5 489.0,1294.6 489.8,1314.0 490.7,1309.7 491.5,1305.1 492.4,1305.4 493.2,1317.8 494.0,1327.2 494.9,1313.4 495.7,1311.9 496.6,1313.7 497.4,1320.2 498.2,1318.1 499.1,1302.0 499.9,1309.3 500.8,1323.7 501.6,1317.2 502.4,1320.9 503.3,1324.6 504.1,1323.4 505.0,1326.4 505.8,1325.0 506.6,1322.2 507.5,1322.8 508.3,1341.1 509.2,1302.5 510.0,1316.1 510.8,1314.9 511.7,1302.8 512.5,1294.0 513.4,1299.3 514.2,1297.7 515.0,1297.7 515.9,1296.5 516.7,1302.4 517.6,1290.6 518.4,1300.5 519.2,1285.7 520.1,1297.9 520.9,1286.4 521.8,1285.4 522.6,1267.5 523.4,1275.2 524.3,1272.8 525.1,1268.7 526.0,1268.9 526.8,1261.4 527.6,1262.5 528.5,1262.2 529.3,1253.0 530.2,1260.9 531.0,1256.4 531.8,1253.8 532.7,1251.3 533.5,1248.6 534.4,1238.1 535.2,1236.4 536.0,1231.8 536.9,1226.4 537.7,1224.6 538.6,1221.6 539.4,1221.7 540.2,1217.6 541.1,1214.0 541.9,1212.0 542.8,1209.7 543.6,1210.7 544.4,1212.0 545.3,1212.7 546.1,1211.9 547.0,1212.4 547.8,1214.1 548.6,1215.9 549.5,1212.0 550.3,1215.3 551.2,1227.0 552.0,1234.8 552.8,1243.3 553.7,1252.8 554.5,1262.4 555.4,1264.3 556.2,1278.5 557.0,1283.5 557.9,1283.3 558.7,1288.7 559.6,1292.8 560.4,1299.5 561.2,1302.5 562.1,1309.6 562.9,1318.3 563.8,1320.9 564.6,1329.0 565.4,1330.7 566.3,1341.6 567.1,1341.8 568.0,1348.9 568.8,1357.7 569.6,1361.4 570.5,1363.5 571.3,1365.4 572.2,1373.7 573.0,1366.9 573.8,1371.7 574.7,1385.0 575.5,1384.2 576.4,1383.9 577.2,1384.7 578.0,1393.6 578.9,1395.0 579.7,1396.4 580.6,1397.3 581.4,1399.0 582.2,1409.8 583.1,1402.3 583.9,1398.5 584.8,1399.8 585.6,1407.8 586.4,1410.8 587.3,1411.4 588.1,1414.2 589.0,1412.3 589.8,1414.7 590.6,1415.6 591.5,1418.6 592.3,1419.6 593.2,1427.2 594.0,1421.6 594.8,1424.7 595.7,1431.5 596.5,1430.9 597.4,1432.3 598.2,1446.4 599.0,1443.4 599.9,1436.6 600.7,1435.8 601.6,1440.3 602.4,1441.1 603.2,1439.3 604.1,1441.6 604.9,1442.6 605.8,1444.9 606.6,1438.6 607.4,1442.8 608.3,1433.6 609.1,1434.2 610.0,1433.7 610.8,1436.7 611.6,1445.4 612.5,1441.4 613.3,1443.3 614.2,1443.9 615.0,1441.7 615.8,1436.2 616.7,1442.8 617.5,1453.5 618.4,1447.2 619.2,1449.1 620.0,1447.8 620.9,1454.9 621.7,1455.2 622.6,1452.2 623.4,1454.6 624.2,1454.2 625.1,1457.2 625.9,1459.1 626.8,1460.4 627.6,1468.9 628.4,1473.4 629.3,1454.3 630.1,1464.8 631.0,1457.3 631.8,1468.0 632.6,1474.2 633.5,1473.9 634.3,1474.4 635.2,1469.9 636.0,1480.1 636.8,1479.5 637.7,1478.8 638.5,1483.6 639.4,1474.9 640.2,1480.4 641.0,1486.8 641.9,1477.9 642.7,1482.1 643.6,1487.3 644.4,1490.1 645.2,1489.9 646.1,1481.4 646.9,1489.2 647.8,1494.2 648.6,1492.0 649.4,1490.8 650.3,1480.0 651.1,1492.6 652.0,1502.6 652.8,1486.3 653.6,1495.7 654.5,1501.9 655.3,1497.3 656.2,1493.1 657.0,1496.8 657.8,1489.8 658.7,1495.5 659.5,1493.0 660.4,1501.2 661.2,1501.0 662.0,1498.8 662.9,1494.6 663.7,1499.6 664.6,1509.2 665.4,1494.7 666.2,1496.2 667.1,1491.4 667.9,1489.7 668.8,1498.6 669.6,1487.2 670.4,1497.5 671.3,1490.8 672.1,1499.2 673.0,1500.8 673.8,1507.1 674.6,1497.9 675.5,1498.4 676.3,1499.0 677.2,1502.4 678.0,1504.1 678.8,1495.8 679.7,1500.2 680.5,1494.2 681.4,1500.0 682.2,1505.5 683.0,1510.9 683.9,1515.3 684.7,1497.9 685.6,1504.4 686.4,1510.1 687.2,1506.1 688.1,1505.4 688.9,1509.7 689.8,1511.7 690.6,1503.7 691.4,1508.3 692.3,1504.5 693.1,1505.6 694.0,1509.7 694.8,1507.5 695.6,1513.6 696.5,1509.6 697.3,1507.6 698.2,1512.6 699.0,1509.7 699.8,1505.2 700.7,1527.3 701.5,1509.6 702.4,1508.8 703.2,1514.0 704.0,1499.6 704.9,1518.2 705.7,1507.5 706.6,1504.5 707.4,1525.0 708.2,1514.0 709.1,1521.8 709.9,1520.1 710.8,1515.7 711.6,1499.8 712.4,1513.9 713.3,1502.4 714.1,1493.1 715.0,1517.2 715.8,1508.7 716.6,1514.3 717.5,1510.9 718.3,1514.7 719.2,1511.7 720.0,1525.8 720.8,1509.1 721.7,1516.1 722.5,1514.8 723.4,1509.8 724.2,1508.8 725.0,1507.9 725.9,1510.7 726.7,1503.4 727.6,1508.0 728.4,1510.6 729.2,1506.0 730.1,1504.1 730.9,1500.2 731.8,1513.7 732.6,1516.1 733.4,1514.5 734.3,1511.4 735.1,1509.8 736.0,1497.4 736.8,1516.0 737.6,1508.3 738.5,1511.0 739.3,1501.4 740.2,1511.9 741.0,1502.4 741.8,1520.8 742.7,1511.2 743.5,1508.8 744.4,1510.3 745.2,1504.8 746.0,1508.6 746.9,1500.5 747.7,1506.1 748.6,1506.3 749.4,1504.0 750.2,1508.3 751.1,1500.0 751.9,1496.3 752.8,1507.6 753.6,1526.5 754.4,1512.1 755.3,1509.0 756.1,1506.0 757.0,1504.1 757.8,1509.2 758.6,1511.4 759.5,1514.2 760.3,1509.9 761.2,1514.9 762.0,1514.0 762.8,1514.9 763.7,1509.1 764.5,1510.4 765.4,1506.7 766.2,1511.5 767.0,1502.5 767.9,1510.8 768.7,1507.4 769.6,1511.1 770.4,1508.0 771.2,1498.4 772.1,1511.1 772.9,1511.3 773.8,1512.2 774.6,1507.4 775.4,1512.2 776.3,1510.6 777.1,1506.2 778.0,1512.0 778.8,1514.3 779.6,1511.2 780.5,1515.2 781.3,1516.5 782.2,1500.2 783.0,1510.5 783.8,1511.7 784.7,1514.8 785.5,1514.0 786.4,1514.9 787.2,1506.9 788.0,1512.2 788.9,1509.8 789.7,1516.7 790.6,1515.7 791.4,1511.9 792.2,1518.8 793.1,1508.7 793.9,1501.2 794.8,1512.1 795.6,1514.5 796.4,1520.7 797.3,1512.8 798.1,1508.1 799.0,1513.2 799.8,1500.9 800.6,1515.5 801.5,1510.6 802.3,1506.7 803.2,1507.8 804.0,1514.9 804.8,1516.6 805.7,1508.2 806.5,1523.1 807.4,1514.7 808.2,1509.6 809.0,1504.1 809.9,1507.1 810.7,1509.9 811.6,1507.7 812.4,1507.3 813.2,1508.5 814.1,1514.5 814.9,1503.1 815.8,1516.5 816.6,1510.9 817.4,1513.5 818.3,1511.8 819.1,1519.2 820.0,1508.9 820.8,1510.2 821.6,1512.8 822.5,1513.0 823.3,1511.8 824.2,1511.7 825.0,1507.3 825.8,1514.0 826.7,1518.5 827.5,1519.7 828.4,1513.6 829.2,1527.4 830.0,1525.5 830.9,1512.2 831.7,1507.7 832.6,1518.7 833.4,1523.2 834.2,1515.2 835.1,1525.6 835.9,1513.2 836.8,1513.5 837.6,1504.0 838.4,1511.6 839.3,1522.3 840.1,1504.9 841.0,1506.1 841.8,1498.6 842.6,1512.3 843.5,1512.8 844.3,1511.2 845.2,1516.5 846.0,1511.4 846.8,1510.0 847.7,1508.9 848.5,1507.4 849.4,1500.6 850.2,1501.1 851.0,1506.1 851.9,1502.4 852.7,1503.3 853.6,1503.7 854.4,1502.6 855.2,1500.2 856.1,1498.5 856.9,1495.3 857.8,1497.4 858.6,1496.4 859.4,1489.3 860.3,1489.6 861.1,1485.7 862.0,1489.3 862.8,1484.6 863.6,1491.0 864.5,1480.6 865.3,1484.1 866.2,1483.9 867.0,1492.3 867.8,1485.0 868.7,1491.3 869.5,1483.0 870.4,1464.5 871.2,1480.2 872.0,1484.8 872.9,1480.3 873.7,1483.4 874.6,1475.9 875.4,1483.5 876.2,1481.8 877.1,1491.9 877.9,1477.0 878.8,1483.7 879.6,1488.2 880.4,1485.4 881.3,1486.7 882.1,1486.4 883.0,1483.4 883.8,1487.7 884.6,1493.6 885.5,1492.6 886.3,1489.9 887.2,1493.5 888.0,1496.0 888.8,1497.0 889.7,1486.6 890.5,1491.2 891.4,1506.2 892.2,1494.8 893.0,1501.6 893.9,1500.3 894.7,1506.2 895.6,1492.0 896.4,1512.0 897.2,1510.3 898.1,1501.2 898.9,1508.9 899.8,1487.7 900.6,1515.4 901.4,1509.3 902.3,1514.8 903.1,1517.4 904.0,1499.2 904.8,1522.9 905.6,1508.8 906.5,1512.1 907.3,1519.0 908.2,1517.3 909.0,1524.0 909.8,1518.4 910.7,1526.1 911.5,1529.5 912.4,1540.8 913.2,1526.2 914.0,1525.3 914.9,1530.4 915.7,1532.4 916.6,1542.1 917.4,1533.4 918.2,1532.5 919.1,1531.2 919.9,1538.8 920.8,1538.2 921.6,1525.4 922.4,1535.0 923.3,1531.6 924.1,1538.4 925.0,1536.8 925.8,1531.6 926.6,1539.0 927.5,1541.1 928.3,1536.5 929.2,1545.6 930.0,1529.4 930.8,1526.1 931.7,1542.4 932.5,1540.1 933.4,1543.5 934.2,1551.5 935.0,1539.6 935.9,1545.5 936.7,1541.7 937.6,1539.9 938.4,1539.9 939.2,1563.3 940.1,1537.8 940.9,1538.9 941.8,1539.5 942.6,1541.5 943.4,1528.0 944.3,1541.4 945.1,1525.8 946.0,1537.8 946.8,1538.5 947.6,1539.8 948.5,1539.7 949.3,1540.0 950.2,1524.3 951.0,1536.7 951.8,1541.5 952.7,1537.6 953.5,1543.0 954.4,1538.6 955.2,1538.7 956.0,1539.8 956.9,1551.6 957.7,1521.8 958.6,1532.1 959.4,1531.0 960.2,1534.3 961.1,1526.1 961.9,1552.8 962.8,1534.5 963.6,1539.4 964.4,1545.8 965.3,1540.4 966.1,1538.3 967.0,1539.4 967.8,1541.4 968.6,1540.6 969.5,1542.8 970.3,1542.8 971.2,1536.5 972.0,1550.3 972.8,1556.8 973.7,1546.1 974.5,1538.9 975.4,1553.9 976.2,1545.6 977.0,1546.3 977.9,1545.0 978.7,1557.1 979.6,1551.2 980.4,1547.1 981.2,1548.1 982.1,1548.9 982.9,1548.6 983.8,1551.6 984.6,1559.3 985.4,1540.3 986.3,1554.9 987.1,1555.0 988.0,1547.4 988.8,1562.3 989.6,1555.9 990.5,1553.0 991.3,1545.7 992.2,1550.8 993.0,1553.8 993.8,1551.9 994.7,1544.8 995.5,1554.1 996.4,1551.3 997.2,1549.6 998.0,1551.1 998.9,1547.9 999.7,1551.6 1000.6,1542.9 1001.4,1565.1 1002.2,1549.1 1003.1,1552.3 1003.9,1552.1 1004.8,1553.9 1005.6,1553.0 1006.4,1561.0 1007.3,1550.8 1008.1,1573.4 1009.0,1554.5 1009.8,1572.4 1010.6,1554.2 1011.5,1547.0 1012.3,1562.9 1013.2,1550.7 1014.0,1561.3 1014.8,1566.4 1015.7,1552.9 1016.5,1555.5 1017.4,1559.6 1018.2,1568.0 1019.0,1567.9 1019.9,1559.4 1020.7,1560.9 1021.6,1567.2 1022.4,1551.5 1023.2,1575.5 1024.1,1570.0 1024.9,1554.9 1025.8,1562.4 1026.6,1564.5 1027.4,1562.5 1028.3,1547.6 1029.1,1547.0 1030.0,1555.1 1030.8,1550.8 1031.6,1559.8 1032.5,1563.5 1033.3,1560.8 1034.2,1568.5 1035.0,1559.7 1035.8,1559.2 1036.7,1553.3 1037.5,1570.3 1038.4,1561.4 1039.2,1572.9 1040.0,1567.6 1040.9,1552.6 1041.7,1560.4 1042.6,1559.5 1043.4,1562.2 1044.2,1550.8 1045.1,1561.0 1045.9,1560.6 1046.8,1558.7 1047.6,1555.0 1048.4,1561.3 1049.3,1552.0 1050.1,1558.5 1051.0,1550.6 1051.8,1558.3 1052.6,1557.7 1053.5,1560.7 1054.3,1561.3 1055.2,1561.5 1056.0,1559.4 1056.8,1561.9 1057.7,1561.2 1058.5,1560.8 1059.4,1563.5 1060.2,1570.4 1061.0,1562.1 1061.9,1571.0 1062.7,1564.2 1063.6,1562.9 1064.4,1564.1 1065.2,1566.1 1066.1,1563.6 1066.9,1573.0 1067.8,1565.3 1068.6,1568.0 1069.4,1572.6 1070.3,1572.4 1071.1,1570.2 1072.0,1571.4 1072.8,1572.6 1073.6,1570.7 1074.5,1569.7 1075.3,1577.7 1076.2,1566.4 1077.0,1565.9 1077.8,1570.2 1078.7,1569.5 1079.5,1585.3 1080.4,1573.8 1081.2,1580.0 1082.0,1574.9 1082.9,1571.6 1083.7,1580.9 1084.6,1581.5 1085.4,1571.0 1086.2,1579.7 1087.1,1577.8 1087.9,1573.6 1088.8,1576.1 1089.6,1580.1 1090.4,1573.8 1091.3,1578.8 1092.1,1578.1 1093.0,1578.2 1093.8,1573.6 1094.6,1582.6 1095.5,1578.4 1096.3,1580.3 1097.2,1579.5 1098.0,1576.2 1098.8,1581.4 1099.7,1577.3 1100.5,1587.6 1101.4,1578.1 1102.2,1573.8 1103.0,1578.2 1103.9,1577.4 1104.7,1591.1 1105.6,1576.3 1106.4,1586.9 1107.2,1564.0 1108.1,1572.7 1108.9,1576.9 1109.8,1582.9 1110.6,1581.0 1111.4,1579.2 1112.3,1579.3 1113.1,1585.7 1114.0,1576.7 1114.8,1584.6 1115.6,1579.6 1116.5,1583.2 1117.3,1585.5 1118.2,1580.7 1119.0,1577.6 1119.8,1578.7 1120.7,1579.2 1121.5,1575.7 1122.4,1582.2 1123.2,1584.7 1124.0,1582.6 1124.9,1594.6 1125.7,1593.7 1126.6,1588.5 1127.4,1589.2 1128.2,1583.7 1129.1,1589.4 1129.9,1576.4 1130.8,1572.2 1131.6,1578.2 1132.4,1585.7 1133.3,1591.0 1134.1,1575.5 1135.0,1587.7 1135.8,1590.4 1136.6,1595.6 1137.5,1590.9 1138.3,1586.8 1139.2,1581.8 1140.0,1590.3 1140.8,1594.8 1141.7,1595.4 1142.5,1591.6 1143.4,1585.7 1144.2,1581.7 1145.0,1579.9 1145.9,1587.6 1146.7,1590.7 1147.6,1585.1 1148.4,1591.6 1149.2,1588.4 1150.1,1594.1 1150.9,1590.7 1151.8,1593.6 1152.6,1587.7 1153.4,1591.1 1154.3,1596.4 1155.1,1577.0 1156.0,1598.1 1156.8,1590.9 1157.6,1605.0 1158.5,1587.6 1159.3,1589.4 1160.2,1590.9 1161.0,1589.8 1161.8,1589.9 1162.7,1593.2 1163.5,1584.7 1164.4,1590.2 1165.2,1587.7 1166.0,1593.5 1166.9,1594.8 1167.7,1587.2 1168.6,1586.3 1169.4,1591.9 1170.2,1593.5 1171.1,1590.0 1171.9,1593.3 1172.8,1596.0 1173.6,1588.7 1174.4,1588.0 1175.3,1581.4 1176.1,1589.5 1177.0,1587.1 1177.8,1593.4 1178.6,1592.4 1179.5,1601.0 1180.3,1594.4 1181.2,1589.3 1182.0,1591.6 1182.8,1593.4 1183.7,1594.2 1184.5,1605.6 1185.4,1596.4 1186.2,1592.7 1187.0,1592.1 1187.9,1596.9 1188.7,1585.7 1189.6,1596.2 1190.4,1606.8 1191.2,1608.1 1192.1,1598.0 1192.9,1597.9 1193.8,1595.1 1194.6,1598.6 1195.4,1597.1 1196.3,1599.6 1197.1,1610.4 1198.0,1601.6 1198.8,1591.5 1199.6,1592.8 1200.5,1600.6 1201.3,1612.5 1202.2,1599.4 1203.0,1603.6 1203.8,1596.0 1204.7,1595.6 1205.5,1613.2 1206.4,1605.2 1207.2,1599.1 1208.0,1604.0 1208.9,1601.5 1209.7,1603.8 1210.6,1601.5 1211.4,1602.9 1212.2,1610.1 1213.1,1601.0 1213.9,1604.5 1214.8,1612.3 1215.6,1592.6 1216.4,1600.1 1217.3,1601.8 1218.1,1604.1 1219.0,1603.4 1219.8,1612.3 1220.6,1600.7 1221.5,1602.8 1222.3,1597.9 1223.2,1601.0 1224.0,1605.7 1224.8,1595.8 1225.7,1613.6 1226.5,1607.8 1227.4,1597.2 1228.2,1608.4 1229.0,1598.3 1229.9,1604.7 1230.7,1600.6 1231.6,1599.4 1232.4,1604.7 1233.2,1611.5 1234.1,1595.4 1234.9,1599.8 1235.8,1604.3 1236.6,1616.1 1237.4,1603.3 1238.3,1610.8 1239.1,1605.5 1240.0,1604.9 1240.8,1608.3 1241.6,1602.3 1242.5,1606.1 1243.3,1597.5 1244.2,1606.4 1245.0,1617.7 1245.8,1601.5 1246.7,1602.9 1247.5,1607.3 1248.4,1611.2 1249.2,1607.5 1250.0,1611.8 1250.9,1606.4 1251.7,1614.2 1252.6,1604.9 1253.4,1607.9 1254.2,1605.1 1255.1,1608.1 1255.9,1599.4 1256.8,1604.0 1257.6,1609.3 1258.4,1606.4 1259.3,1604.1 1260.1,1603.1 1261.0,1609.6 1261.8,1600.6 1262.6,1600.2 1263.5,1597.1 1264.3,1604.6 1265.2,1608.8 1266.0,1599.7 1266.8,1606.2 1267.7,1606.4 1268.5,1601.6 1269.4,1604.6 1270.2,1605.2 1271.0,1598.1 1271.9,1611.9 1272.7,1601.1 1273.6,1601.6 1274.4,1607.2 1275.2,1605.8 1276.1,1608.6 1276.9,1607.2 1277.8,1600.9 1278.6,1606.3 1279.4,1618.0 1280.3,1605.4 1281.1,1603.7 1282.0,1613.5 1282.8,1601.0 1283.6,1607.5 1284.5,1625.4 1285.3,1614.4 1286.2,1603.3 1287.0,1601.4 1287.8,1609.5 1288.7,1612.2 1289.5,1615.0 1290.4,1605.9 1291.2,1610.0 1292.0,1610.6 1292.9,1608.6 1293.7,1613.3 1294.6,1611.4 1295.4,1610.1 1296.2,1614.2 1297.1,1608.7 1297.9,1611.6 1298.8,1613.5 1299.6,1609.3 1300.4,1602.2 1301.3,1599.4 1302.1,1612.5 1303.0,1612.4 1303.8,1611.2 1304.6,1604.7 1305.5,1608.5 1306.3,1614.2 1307.2,1609.1 1308.0,1607.9 1308.8,1616.7 1309.7,1616.8 1310.5,1604.3 1311.4,1608.8 1312.2,1610.3 1313.0,1611.1 1313.9,1613.7 1314.7,1608.2 1315.6,1592.8 1316.4,1600.6 1317.2,1597.3 1318.1,1604.7 1318.9,1602.8 1319.8,1622.4 1320.6,1596.2 1321.4,1591.9 1322.3,1582.2 1323.1,1595.5 1324.0,1612.1 1324.8,1603.5 1325.6,1597.4 1326.5,1603.0 1327.3,1604.1 1328.2,1599.6 1329.0,1583.2 1329.8,1605.1 1330.7,1603.2 1331.5,1592.5 1332.4,1602.3 1333.2,1596.1 1334.0,1601.5 1334.9,1605.5 1335.7,1603.5 1336.6,1600.5 1337.4,1605.4 1338.2,1599.3 1339.1,1603.4 1339.9,1599.9 1340.8,1602.8 1341.6,1602.2 1342.4,1602.2 1343.3,1604.9 1344.1,1604.0 1345.0,1609.5 1345.8,1599.1 1346.6,1608.7 1347.5,1601.7 1348.3,1598.5 1349.2,1593.9 1350.0,1599.4 1350.8,1600.5 1351.7,1601.5 1352.5,1604.1 1353.4,1603.8 1354.2,1605.9 1355.0,1605.2 1355.9,1605.6 1356.7,1612.0 1357.6,1604.5 1358.4,1598.8 1359.2,1603.4 1360.1,1602.6 1360.9,1604.9 1361.8,1601.3 1362.6,1611.4 1363.4,1601.4 1364.3,1603.7 1365.1,1599.3 1366.0,1613.2 1366.8,1612.6 1367.6,1616.7 1368.5,1600.7 1369.3,1603.1 1370.2,1615.5 1371.0,1614.3 1371.8,1598.8 1372.7,1607.3 1373.5,1596.5 1374.4,1615.0 1375.2,1616.0 1376.0,1621.8 1376.9,1616.5 1377.7,1611.0 1378.6,1611.1 1379.4,1615.3 1380.2,1613.2 1381.1,1627.8 1381.9,1615.1 1382.8,1615.7 1383.6,1632.0 1384.4,1614.3 1385.3,1615.8 1386.1,1608.4 1387.0,1626.6 1387.8,1617.2 1388.6,1616.1 1389.5,1623.4 1390.3,1624.0 1391.2,1611.8 1392.0,1609.3 1392.8,1621.4 1393.7,1625.3 1394.5,1614.9 1395.4,1616.7 1396.2,1600.7 1397.0,1613.5 1397.9,1606.1 1398.7,1607.8 1399.6,1604.3 1400.4,1612.7 1401.2,1613.0 1402.1,1611.6 1402.9,1614.5 1403.8,1604.2 1404.6,1608.5 1405.4,1607.0 1406.3,1611.7 1407.1,1615.8 1408.0,1606.3 1408.8,1619.6 1409.6,1609.4 1410.5,1606.2 1411.3,1607.3 1412.2,1615.2 1413.0,1587.8 1413.8,1609.7 1414.7,1607.3 1415.5,1610.8 1416.4,1609.0 1417.2,1600.7 1418.0,1603.6 1418.9,1624.1 1419.7,1610.7 1420.6,1619.4 1421.4,1621.8 1422.2,1610.9 1423.1,1618.0 1423.9,1608.8 1424.8,1607.2 1425.6,1613.7 1426.4,1607.6 1427.3,1606.7 1428.1,1609.0 1429.0,1608.3 1429.8,1618.1 1430.6,1614.6 1431.5,1610.9 1432.3,1613.8 1433.2,1606.7 1434.0,1607.0 1434.8,1608.1 1435.7,1610.1 1436.5,1600.1 1437.4,1604.7 1438.2,1607.9 1439.0,1605.1 1439.9,1608.2 1440.7,1605.7 1441.6,1609.1 1442.4,1610.5 1443.2,1611.4 1444.1,1614.1 1444.9,1609.8 1445.8,1610.8 1446.6,1615.7 1447.4,1602.3 1448.3,1611.1 1449.1,1605.6 1450.0,1597.8 1450.8,1612.5 1451.6,1608.1 1452.5,1605.5 1453.3,1607.9 1454.2,1611.8 1455.0,1603.2 1455.8,1601.3 1456.7,1586.6 1457.5,1607.5 1458.4,1601.9 1459.2,1592.8 1460.0,1597.5 1460.9,1594.8 1461.7,1605.3 1462.6,1594.4 1463.4,1591.0 1464.2,1601.5 1465.1,1592.8 1465.9,1588.9 1466.8,1585.3 1467.6,1588.4 1468.4,1590.3 1469.3,1586.0 1470.1,1588.5 1471.0,1590.7 1471.8,1577.6 1472.6,1570.0 1473.5,1581.3 1474.3,1577.8 1475.2,1579.4 1476.0,1566.2 1476.8,1568.1 1477.7,1559.2 1478.5,1552.9 1479.4,1550.9 1480.2,1552.2 1481.0,1550.3 1481.9,1548.9 1482.7,1548.0 1483.6,1551.5 1484.4,1552.2 1485.2,1554.8 1486.1,1560.7 1486.9,1556.2 1487.8,1566.1 1488.6,1570.3 1489.4,1564.5 1490.3,1566.7 1491.1,1573.9 1492.0,1567.8 1492.8,1568.6 1493.6,1568.0 1494.5,1559.4 1495.3,1568.5 1496.2,1567.5 1497.0,1564.8 1497.8,1559.1 1498.7,1566.6 1499.5,1569.2 1500.4,1569.0 1501.2,1571.9 1502.0,1571.6 1502.9,1575.4 1503.7,1582.3 1504.6,1563.0 1505.4,1578.2 1506.2,1582.2 1507.1,1567.6 1507.9,1580.4 1508.8,1585.9 1509.6,1585.1 1510.4,1583.4 1511.3,1584.4 1512.1,1575.8 1513.0,1588.9 1513.8,1594.8 1514.6,1596.4 1515.5,1595.7 1516.3,1594.8 1517.2,1593.3 1518.0,1595.3 1518.8,1594.7 1519.7,1598.9 1520.5,1584.5 1521.4,1601.1 1522.2,1605.0 1523.0,1600.2 1523.9,1606.6 1524.7,1602.6 1525.6,1605.3 1526.4,1616.2 1527.2,1597.4 1528.1,1602.1 1528.9,1599.5 1529.8,1599.1 1530.6,1604.9 1531.4,1592.3 1532.3,1604.1 1533.1,1608.3 1534.0,1603.4 1534.8,1605.1 1535.6,1601.2 1536.5,1605.8 1537.3,1606.1 1538.2,1605.0 1539.0,1608.0 1539.8,1605.2 1540.7,1605.4 1541.5,1598.7 1542.4,1607.2 1543.2,1604.4 1544.0,1606.4 1544.9,1605.3 1545.7,1602.5 1546.6,1605.4 1547.4,1611.1 1548.2,1606.7 1549.1,1601.1 1549.9,1606.0 1550.8,1611.1 1551.6,1595.8 1552.4,1591.8 1553.3,1609.7 1554.1,1606.8 1555.0,1608.8 1555.8,1604.4 1556.6,1606.8 1557.5,1601.1 1558.3,1600.1 1559.2,1606.8 1560.0,1611.4 1560.8,1606.7 1561.7,1592.0 1562.5,1589.5 1563.4,1609.5 1564.2,1605.1 1565.0,1602.5 1565.9,1603.7 1566.7,1614.2 1567.6,1606.3 1568.4,1601.1 1569.2,1602.3 1570.1,1597.9 1570.9,1615.8 1571.8,1606.2 1572.6,1606.2 1573.4,1597.8 1574.3,1604.2 1575.1,1610.6 1576.0,1611.4 1576.8,1606.2 1577.6,1604.3 1578.5,1616.8 1579.3,1605.0 1580.2,1604.5 1581.0,1602.9 1581.8,1608.8 1582.7,1614.1 1583.5,1610.9 1584.4,1615.3 1585.2,1611.1 1586.0,1615.1 1586.9,1611.1 1587.7,1615.2 1588.6,1614.9 1589.4,1615.8 1590.2,1620.1 1591.1,1614.9 1591.9,1617.4 1592.8,1615.9 1593.6,1622.5 1594.4,1613.2 1595.3,1614.6 1596.1,1618.3 1597.0,1613.0 1597.8,1618.4 1598.6,1631.9 1599.5,1612.9 1600.3,1614.9 1601.2,1597.1 1602.0,1619.0 1602.8,1612.6 1603.7,1615.1 1604.5,1609.5 1605.4,1615.5 1606.2,1613.5 1607.0,1630.7 1607.9,1622.8 1608.7,1613.7 1609.6,1608.7 1610.4,1610.7 1611.2,1612.9 1612.1,1615.7 1612.9,1617.4 1613.8,1616.7 1614.6,1614.5 1615.4,1611.5 1616.3,1611.7 1617.1,1608.5 1618.0,1610.7 1618.8,1608.7 1619.6,1609.7 1620.5,1598.3 1621.3,1601.3 1622.2,1609.4 1623.0,1606.6 1623.8,1603.1 1624.7,1619.6 1625.5,1589.4 1626.4,1616.2 1627.2,1611.1 1628.0,1582.5 1628.9,1611.7 1629.7,1606.7 1630.6,1598.0 1631.4,1605.3 1632.2,1615.0 1633.1,1588.3 1633.9,1598.4 1634.8,1593.4 1635.6,1610.3 1636.4,1593.9 1637.3,1593.0 1638.1,1592.8 1639.0,1609.1 1639.8,1597.7 1640.6,1618.2 1641.5,1588.9 1642.3,1602.9 1643.2,1596.6 1644.0,1598.6 1644.8,1598.9 1645.7,1604.7 1646.5,1600.3 1647.4,1602.6 1648.2,1610.5 1649.0,1605.8 1649.9,1587.5 1650.7,1602.4 1651.6,1606.3 1652.4,1603.5 1653.2,1598.9 1654.1,1599.6 1654.9,1604.6 1655.8,1607.1 1656.6,1605.9 1657.4,1603.5 1658.3,1602.0 1659.1,1604.7 1660.0,1612.0 1660.8,1600.0 1661.6,1599.8 1662.5,1600.6 1663.3,1607.7 1664.2,1596.6 1665.0,1605.7 1665.8,1605.8 1666.7,1607.2 1667.5,1607.4 1668.4,1612.1 1669.2,1606.4 1670.0,1604.3 1670.9,1611.5 1671.7,1605.0 1672.6,1602.5 1673.4,1594.6 1674.2,1614.7 1675.1,1606.3 1675.9,1605.2 1676.8,1596.8 1677.6,1606.8 1678.4,1593.7 1679.3,1603.0 1680.1,1604.5 1681.0,1599.2 1681.8,1595.6 1682.6,1611.5 1683.5,1589.5 1684.3,1596.9 1685.2,1600.4 1686.0,1600.6 1686.8,1595.2 1687.7,1596.6 1688.5,1598.3 1689.4,1612.6 1690.2,1616.6 1691.0,1592.1 1691.9,1604.6 1692.7,1598.1 1693.6,1596.0 1694.4,1598.4 1695.2,1588.9 1696.1,1601.7 1696.9,1600.4 1697.8,1594.1 1698.6,1583.9 1699.4,1598.6 1700.3,1608.9 1701.1,1588.0 1702.0,1608.4 1702.8,1592.8 1703.6,1588.1 1704.5,1594.0 1705.3,1593.2 1706.2,1587.5 1707.0,1588.9 1707.8,1583.8 1708.7,1587.4 1709.5,1581.7 1710.4,1582.4 1711.2,1585.9 1712.0,1584.2 1712.9,1580.1 1713.7,1584.5 1714.6,1578.5 1715.4,1573.7 1716.2,1572.8 1717.1,1561.6 1717.9,1553.6 1718.8,1561.0 1719.6,1568.3 1720.4,1583.8 1721.3,1558.6 1722.1,1580.5 1723.0,1568.0 1723.8,1555.6 1724.6,1561.8 1725.5,1557.3 1726.3,1564.1 1727.2,1558.0 1728.0,1558.1 1728.8,1559.8 1729.7,1555.6 1730.5,1562.8 1731.4,1559.1 1732.2,1545.3 1733.0,1558.1 1733.9,1556.4 1734.7,1567.9 1735.6,1570.1 1736.4,1544.5 1737.2,1560.6 1738.1,1557.6 1738.9,1555.8 1739.8,1547.0 1740.6,1564.4 1741.4,1557.1 1742.3,1557.0 1743.1,1570.6 1744.0,1548.8 1744.8,1556.2 1745.6,1543.9 1746.5,1556.2 1747.3,1580.7 1748.2,1559.4 1749.0,1566.8 1749.8,1568.6 1750.7,1563.6 1751.5,1569.2 1752.4,1562.6 1753.2,1560.1 1754.0,1567.0 1754.9,1565.8 1755.7,1568.2 1756.6,1567.0 1757.4,1571.3 1758.2,1575.7 1759.1,1585.3 1759.9,1583.2 1760.8,1607.1 1761.6,1589.0 1762.4,1599.8 1763.3,1592.7 1764.1,1599.5 1765.0,1604.5 1765.8,1589.9 1766.6,1587.2 1767.5,1580.4 1768.3,1613.2 1769.2,1589.4 1770.0,1621.1 1770.8,1601.2 1771.7,1604.7 1772.5,1578.1 1773.4,1611.1 1774.2,1586.3 1775.0,1606.5 1775.9,1582.3 1776.7,1616.4 1777.6,1587.7 1778.4,1595.2 1779.2,1602.5 1780.1,1597.4 1780.9,1595.6 1781.8,1603.3 1782.6,1593.7 1783.4,1607.6 1784.3,1611.0 1785.1,1608.2 1786.0,1609.8 1786.8,1606.0 1787.6,1610.3 1788.5,1612.9 1789.3,1622.8 1790.2,1613.3 1791.0,1631.0 1791.8,1613.0 1792.7,1615.1 1793.5,1616.9 1794.4,1605.8 1795.2,1618.9 1796.0,1618.6 1796.9,1606.1 1797.7,1614.8 1798.6,1611.9 1799.4,1607.8 1800.2,1608.5 1801.1,1606.3 1801.9,1621.2 1802.8,1616.8 1803.6,1614.8 1804.4,1607.1 1805.3,1614.3 1806.1,1608.6 1807.0,1611.3 1807.8,1597.3 1808.6,1618.5 1809.5,1609.1 1810.3,1612.6 1811.2,1605.2 1812.0,1608.4 1812.8,1617.1 1813.7,1617.4 1814.5,1617.3 1815.4,1616.1 1816.2,1620.1 1817.0,1628.5 1817.9,1626.5 1818.7,1625.5 1819.6,1620.0 1820.4,1619.8 1821.2,1628.7 1822.1,1616.8 1822.9,1620.1 1823.8,1615.1 1824.6,1618.7 1825.4,1615.2 1826.3,1626.2 1827.1,1627.2 1828.0,1616.8 1828.8,1622.6 1829.6,1622.6 1830.5,1624.9 1831.3,1620.8 1832.2,1613.4 1833.0,1618.7 1833.8,1613.9 1834.7,1616.5 1835.5,1606.2 1836.4,1601.0 1837.2,1625.4 1838.0,1616.6 1838.9,1617.1 1839.7,1618.7 1840.6,1604.2 1841.4,1619.1 1842.2,1620.3 1843.1,1607.7 1843.9,1622.4 1844.8,1617.9 1845.6,1618.1 1846.4,1615.9 1847.3,1608.2 1848.1,1614.2 1849.0,1614.1 1849.8,1622.5 1850.6,1619.9 1851.5,1628.7 1852.3,1614.4 1853.2,1622.7 1854.0,1620.9 1854.8,1618.7 1855.7,1621.7 1856.5,1614.6 1857.4,1622.3 1858.2,1616.8 1859.0,1620.1 1859.9,1621.8 1860.7,1616.7 1861.6,1632.5 1862.4,1614.3 1863.2,1628.0 1864.1,1633.8 1864.9,1625.7 1865.8,1621.1 1866.6,1625.7 1867.4,1623.4 1868.3,1638.3 1869.1,1624.8 1870.0,1616.3 1870.8,1623.4 1871.6,1614.6 1872.5,1623.6 1873.3,1616.9 1874.2,1623.7 1875.0,1628.2 1875.8,1610.6 1876.7,1622.8 1877.5,1615.0 1878.4,1622.8 1879.2,1623.8 1880.0,1608.5 1880.9,1623.5 1881.7,1627.9 1882.6,1625.7 1883.4,1619.5 1884.2,1625.4 1885.1,1610.7 1885.9,1620.7 1886.8,1626.2 1887.6,1621.5 1888.4,1627.8 1889.3,1620.4 1890.1,1631.6 1891.0,1633.3 1891.8,1633.3 1892.6,1631.8 1893.5,1629.5 1894.3,1635.2 1895.2,1621.3 1896.0,1616.6 1896.8,1626.9 1897.7,1644.1 1898.5,1628.9 1899.4,1630.1 1900.2,1626.2 1901.0,1630.4 1901.9,1633.9 1902.7,1630.9 1903.6,1617.4 1904.4,1628.8 1905.2,1629.5 1906.1,1623.4 1906.9,1617.5 1907.8,1633.9 1908.6,1612.7 1909.4,1628.7 1910.3,1633.1 1911.1,1636.4 1912.0,1628.9 1912.8,1622.5 1913.6,1641.9 1914.5,1634.8 1915.3,1636.6 1916.2,1635.2 1917.0,1635.8 1917.8,1623.6 1918.7,1626.7 1919.5,1641.3 1920.4,1631.3 1921.2,1635.4 1922.0,1637.0 1922.9,1634.6 1923.7,1624.2 1924.6,1635.6 1925.4,1634.7 1926.2,1632.6 1927.1,1634.8 1927.9,1636.3 1928.8,1623.2 1929.6,1634.6 1930.4,1631.7 1931.3,1636.3 1932.1,1631.4 1932.5,1635.8" stroke="#FF4242"/>
<path d="M256.0,389.4 258.0,393.6 258.8,404.0 259.7,389.0 260.5,403.4 261.4,408.2 262.0,397.2 262.2,388.4 263.0,405.4 263.9,417.4 264.7,419.7 265.6,413.2 266.4,425.8 267.0,433.3 267.2,429.1 268.1,434.4 268.9,455.3 269.8,438.6 270.6,434.5 271.4,430.1 272.3,436.5 273.1,441.1 274.0,454.6 274.8,450.3 275.6,441.8 276.5,462.0 277.3,447.9 278.2,453.9 279.0,439.1 279.8,440.4 280.7,447.2 281.0,466.7 281.5,459.9 282.4,468.1 283.2,463.5 284.0,461.3 284.9,465.4 285.7,468.9 286.6,479.8 287.4,470.6 288.2,486.1 289.1,478.1 289.9,486.8 290.6,480.0 290.8,484.2 291.6,478.8 292.4,483.9 293.3,478.4 294.1,473.9 295.0,467.8 295.8,494.0 296.6,490.8 297.5,505.8 298.3,503.6 299.2,494.2 300.0,521.4 300.8,501.1 301.7,507.1 302.5,501.0 303.4,496.8 304.2,497.6 305.0,500.1 305.9,512.2 306.7,500.5 307.6,488.7 308.4,525.4 309.2,505.8 310.1,520.0 310.9,522.7 311.8,527.2 312.6,527.2 313.4,545.8 314.3,536.6 315.1,534.1 316.0,536.6 316.8,536.3 317.6,559.2 318.5,533.3 319.3,545.2 320.2,544.0 321.0,525.0 321.8,542.3 322.7,563.6 323.5,556.7 324.4,522.4 325.2,549.2 326.0,523.6 326.9,564.8 327.7,545.4 328.6,541.5 329.4,586.5 330.2,560.3 331.1,558.9 331.9,545.1 332.8,562.9 333.6,563.7 334.4,567.8 335.3,536.6 336.1,560.1 337.0,564.2 337.8,571.3 338.6,569.6 339.5,576.9 340.3,571.6 341.2,591.0 342.0,599.1 342.8,562.7 343.7,574.6 344.5,584.6 345.4,591.7 346.2,571.0 347.0,581.4 347.9,590.6 348.7,596.6 349.6,608.4 350.4,607.8 351.2,606.2 352.1,583.1 352.9,627.6 353.8,607.1 354.6,592.9 355.4,603.6 356.3,613.2 357.1,610.8 358.0,614.0 358.8,624.4 359.6,627.2 360.5,621.6 361.3,629.8 362.2,623.1 363.0,650.5 363.8,630.6 364.7,652.4 365.5,612.3 366.4,644.7 367.2,635.5 368.0,640.3 368.9,629.5 369.7,639.3 370.6,635.5 371.4,628.8 372.2,610.6 373.1,657.4 373.9,648.6 374.8,639.5 375.6,642.6 376.4,648.7 377.3,658.7 378.1,640.4 379.0,675.3 379.8,672.2 380.6,650.1 381.5,659.5 382.3,655.3 383.2,663.0 384.0,646.0 384.8,660.6 385.7,663.7 386.5,665.5 387.4,668.1 388.2,677.5 389.0,660.5 389.9,657.9 390.7,666.4 391.6,670.6 392.4,690.8 393.2,675.9 394.1,677.8 394.9,696.9 395.8,669.7 396.6,670.5 397.4,675.5 398.3,673.6 399.1,681.8 400.0,698.6 400.8,672.2 401.6,683.6 402.5,688.5 403.3,686.5 404.2,702.4 405.0,695.1 405.8,703.2 406.7,681.4 407.5,687.5 408.4,680.5 409.2,707.0 410.0,720.9 410.9,673.2 411.7,710.4 412.6,710.0 413.4,719.8 414.2,702.6 415.1,713.2 415.9,703.9 416.8,696.0 417.6,717.7 418.4,693.7 419.3,718.8 420.1,711.3 421.0,716.9 421.8,730.5 422.6,713.7 423.5,720.2 424.3,719.1 425.2,715.4 426.0,723.9 426.8,717.4 427.7,734.0 428.5,730.0 429.4,724.5 430.2,753.7 431.0,728.5 431.9,736.0 432.7,738.9 433.6,730.0 434.4,706.3 435.2,749.8 436.1,758.2 436.9,731.3 437.8,731.6 438.6,741.1 439.4,745.2 440.3,775.2 441.1,766.8 442.0,776.8 442.8,742.6 443.6,751.2 444.5,749.6 445.3,745.7 446.2,736.8 447.0,745.6 447.8,752.9 448.7,743.1 449.5,748.8 450.4,740.4 451.2,763.4 452.0,762.4 452.9,758.2 453.7,765.8 454.6,765.5 455.4,771.2 456.2,785.6 457.1,768.2 457.9,775.1 458.8,767.2 459.6,792.1 460.4,778.7 461.3,768.8 462.1,774.0 463.0,771.3 463.8,773.1 464.6,778.3 465.5,792.1 466.3,783.5 467.2,780.1 468.0,784.6 468.8,781.5 469.7,793.8 470.5,769.4 471.4,784.9 472.2,786.8 473.0,782.2 473.9,798.4 474.7,783.9 475.6,789.3 476.4,775.3 477.2,801.7 478.1,793.4 478.9,800.0 479.8,790.6 480.6,772.6 481.4,795.5 482.3,806.3 483.1,809.3 484.0,798.5 484.8,811.0 485.6,785.7 486.5,803.8 487.3,799.5 488.2,804.0 489.0,800.1 489.8,816.9 490.7,803.8 491.5,822.3 492.4,798.9 493.2,809.2 494.0,811.0 494.9,816.5 495.7,812.9 496.6,816.5 497.4,807.7 498.2,817.4 499.1,824.4 499.9,815.6 500.8,824.3 501.6,823.0 502.4,823.2 503.3,823.7 504.1,835.0 505.0,834.5 505.8,833.4 506.6,835.2 507.5,839.6 508.3,840.0 509.2,846.0 510.0,847.4 510.8,843.0 511.7,844.7 512.5,844.4 513.4,843.3 514.2,845.0 515.0,847.6 515.9,846.8 516.7,848.0 517.6,847.5 518.4,855.9 519.2,851.4 520.1,844.6 520.9,853.2 521.8,856.7 522.6,854.5 523.4,850.1 524.3,850.9 525.1,850.1 526.0,846.7 526.8,856.5 527.6,862.9 528.5,863.2 529.3,863.8 530.2,868.4 531.0,867.6 531.8,865.7 532.7,873.2 533.5,871.3 534.4,878.7 535.2,874.6 536.0,871.6 536.9,879.8 537.7,873.8 538.6,884.3 539.4,880.2 540.2,884.7 541.1,874.7 541.9,884.1 542.8,886.4 543.6,880.5 544.4,887.7 545.3,882.7 546.1,886.7 547.0,888.4 547.8,891.9 548.6,885.8 549.5,888.2 550.3,897.5 551.2,897.4 552.0,895.2 552.8,893.9 553.7,900.1 554.5,898.3 555.4,897.1 556.2,907.7 557.0,896.1 557.9,907.1 558.7,904.1 559.6,905.3 560.4,906.8 561.2,909.1 562.1,914.7 562.9,918.4 563.8,902.5 564.6,900.0 565.4,919.6 566.3,902.7 567.1,904.0 568.0,917.8 568.8,932.1 569.6,921.4 570.5,913.4 571.3,912.0 572.2,942.6 573.0,920.7 573.8,919.3 574.7,893.8 575.5,913.6 576.4,899.0 577.2,931.0 578.0,918.5 578.9,918.1 579.7,925.5 580.6,921.5 581.4,927.2 582.2,937.2 583.1,933.8 583.9,927.4 584.8,936.9 585.6,930.8 586.4,932.1 587.3,930.6 588.1,948.5 589.0,931.0 589.8,936.2 590.6,935.0 591.5,936.4 592.3,926.7 593.2,935.2 594.0,956.5 594.8,936.3 595.7,930.6 596.5,923.0 597.4,934.1 598.2,941.8 599.0,920.7 599.9,926.0 600.7,943.3 601.6,950.6 602.4,942.5 603.2,946.0 604.1,941.7 604.9,943.2 605.8,947.4 606.6,944.3 607.4,949.4 608.3,944.6 609.1,962.1 610.0,955.1 610.8,945.9 611.6,950.7 612.5,962.0 613.3,956.3 614.2,955.7 615.0,945.3 615.8,962.7 616.7,962.1 617.5,967.4 618.4,957.9 619.2,966.7 620.0,968.9 620.9,969.5 621.7,968.5 622.6,965.8 623.4,957.1 624.2,969.1 625.1,956.3 625.9,962.0 626.8,969.0 627.6,964.9 628.4,970.8 629.3,976.5 630.1,968.6 631.0,976.2 631.8,987.8 632.6,964.1 633.5,973.2 634.3,976.0 635.2,976.6 636.0,972.8 636.8,978.3 637.7,974.4 638.5,972.7 639.4,976.1 640.2,977.4 641.0,981.5 641.9,980.5 642.7,974.6 643.6,982.3 644.4,981.8 645.2,986.1 646.1,977.6 646.9,988.3 647.8,991.2 648.6,981.0 649.4,979.0 650.3,997.3 651.1,998.4 652.0,989.2 652.8,1001.5 653.6,993.6 654.5,995.3 655.3,995.5 656.2,994.5 657.0,1004.5 657.8,999.0 658.7,1009.3 659.5,1000.6 660.4,1010.7 661.2,1000.4 662.0,1000.6 662.9,1002.1 663.7,976.1 664.6,1005.2 665.4,992.7 666.2,1012.8 667.1,985.9 667.9,1002.5 668.8,1003.4 669.6,999.4 670.4,989.9 671.3,1003.3 672.1,995.8 673.0,995.1 673.8,999.8 674.6,1010.6 675.5,989.4 676.3,996.0 677.2,998.2 678.0,993.7 678.8,1003.8 679.7,996.7 680.5,988.2 681.4,990.9 682.2,990.6 683.0,994.7 683.9,1000.9 684.7,989.6 685.6,990.5 686.4,991.6 687.2,994.6 688.1,993.5 688.9,993.3 689.8,990.1 690.6,996.3 691.4,993.1 692.3,996.4 693.1,985.8 694.0,993.4 694.8,993.2 695.6,998.3 696.5,996.6 697.3,995.5 698.2,991.2 699.0,998.0 699.8,1003.5 700.7,1000.7 701.5,1010.7 702.4,998.8 703.2,995.6 704.0,994.0 704.9,1004.2 705.7,1004.8 706.6,1001.0 707.4,1004.0 708.2,999.1 709.1,1006.4 709.9,1002.3 710.8,995.3 711.6,1000.7 712.4,1001.8 713.3,994.5 714.1,1011.5 715.0,1005.3 715.8,992.9 716.6,995.3 717.5,977.3 718.3,1012.1 719.2,994.2 720.0,1006.5 720.8,1000.5 721.7,988.2 722.5,995.7 723.4,997.0 724.2,1004.9 725.0,999.2 725.9,994.3 726.7,1013.1 727.6,1001.5 728.4,990.9 729.2,1016.7 730.1,1003.9 730.9,1001.2 731.8,995.8 732.6,1004.6 733.4,994.3 734.3,1012.6 735.1,1005.9 736.0,1005.3 736.8,1006.4 737.6,1008.9 738.5,1002.8 739.3,1007.6 740.2,996.7 741.0,1005.7 741.8,1006.7 742.7,1000.1 743.5,997.4 744.4,1012.3 745.2,1011.5 746.0,997.7 746.9,1005.9 747.7,1000.3 748.6,1001.0 749.4,1015.7 750.2,1008.0 751.1,1010.1 751.9,1003.4 752.8,1011.1 753.6,1009.2 754.4,1005.1 755.3,1007.4 756.1,1003.5 757.0,1009.1 757.8,1002.1 758.6,1007.7 759.5,1016.4 760.3,1011.2 761.2,1010.5 762.0,999.4 762.8,1016.3 763.7,1011.5 764.5,1025.3 765.4,1024.0 766.2,1024.1 767.0,1010.9 767.9,1016.2 768.7,999.3 769.6,993.4 770.4,1017.5 771.2,1014.6 772.1,1028.6 772.9,1008.1 773.8,1011.9 774.6,1018.1 775.4,1013.9 776.3,1020.4 777.1,1010.9 778.0,1020.0 778.8,1020.6 779.6,1022.6 780.5,1011.7 781.3,1022.6 782.2,1010.7 783.0,1014.5 783.8,1029.5 784.7,1015.3 785.5,1014.7 786.4,1012.5 787.2,1014.2 788.0,1014.1 788.9,1016.0 789.7,1014.8 790.6,1012.8 791.4,1010.7 792.2,1027.3 793.1,1014.8 793.9,1009.7 794.8,1012.0 795.6,1014.6 796.4,1010.3 797.3,1018.8 798.1,1013.0 799.0,1014.2 799.8,1013.8 800.6,1007.7 801.5,1019.7 802.3,1016.3 803.2,1006.7 804.0,1011.9 804.8,1011.4 805.7,1009.0 806.5,1009.6 807.4,1007.9 808.2,1011.7 809.0,1009.6 809.9,1003.3 810.7,1006.5 811.6,1004.6 812.4,1010.8 813.2,1009.8 814.1,1008.1 814.9,1009.5 815.8,1010.2 816.6,1004.9 817.4,998.5 818.3,1020.2 819.1,1003.6 820.0,1004.6 820.8,1010.3 821.6,1024.6 822.5,1000.8 823.3,1006.6 824.2,1014.6 825.0,997.8 825.8,1004.0 826.7,1010.1 827.5,1015.9 828.4,997.5 829.2,1007.6 830.0,1010.7 830.9,1010.1 831.7,1010.1 832.6,1044.8 833.4,1041.3 834.2,1001.9 835.1,1003.7 835.9,1008.2 836.8,993.9 837.6,997.6 838.4,1012.2 839.3,1048.8 840.1,1005.3 841.0,1001.5 841.8,1013.5 842.6,1005.8 843.5,975.8 844.3,994.9 845.2,1024.3 846.0,996.8 846.8,1014.0 847.7,1009.4 848.5,1017.9 849.4,1011.2 850.2,1004.4 851.0,1003.8 851.9,1004.8 852.7,1004.9 853.6,1005.6 854.4,1007.1 855.2,1012.9 856.1,1011.7 856.9,996.4 857.8,1010.0 858.6,1025.5 859.4,1026.3 860.3,1008.3 861.1,1003.5 862.0,1007.9 862.8,1002.8 863.6,1007.3 864.5,1023.5 865.3,1020.3 866.2,1011.1 867.0,1012.3 867.8,1014.7 868.7,1014.7 869.5,1014.5 870.4,1015.3 871.2,1013.0 872.0,1005.3 872.9,1014.4 873.7,1014.4 874.6,1006.8 875.4,1007.9 876.2,1014.5 877.1,1011.8 877.9,1018.3 878.8,1010.5 879.6,1015.8 880.4,1015.3 881.3,1006.4 882.1,1011.3 883.0,1012.7 883.8,1012.1 884.6,1006.1 885.5,1011.2 886.3,1015.8 887.2,1011.4 888.0,1017.4 888.8,1015.0 889.7,1015.7 890.5,1012.0 891.4,1022.0 892.2,1008.0 893.0,1030.9 893.9,1020.6 894.7,1032.6 895.6,1021.6 896.4,1019.7 897.2,1020.7 898.1,1034.5 898.9,1024.1 899.8,1023.1 900.6,1018.3 901.4,1018.8 902.3,1025.6 903.1,1026.8 904.0,1033.9 904.8,1020.0 905.6,1028.9 906.5,1021.9 907.3,1026.6 908.2,1031.6 909.0,1041.5 909.8,1024.4 910.7,1026.9 911.5,1038.1 912.4,1035.6 913.2,1024.2 914.0,1039.7 914.9,1054.5 915.7,1041.9 916.6,1064.2 917.4,1042.0 918.2,1035.1 919.1,1043.6 919.9,1038.8 920.8,1027.8 921.6,1036.2 922.4,1051.0 923.3,1040.3 924.1,1036.6 925.0,1041.3 925.8,1040.9 926.6,1032.6 927.5,1038.2 928.3,1043.3 929.2,1031.8 930.0,1039.3 930.8,1032.4 931.7,1036.3 932.5,1042.3 933.4,1037.7 934.2,1043.4 935.0,1041.6 935.9,1040.6 936.7,1035.0 937.6,1039.1 938.4,1044.6 939.2,1040.6 940.1,1031.7 940.9,1039.4 941.8,1039.1 942.6,1039.2 943.4,1038.5 944.3,1043.7 945.1,1039.5 946.0,1045.1 946.8,1050.7 947.6,1046.9 948.5,1043.0 949.3,1022.7 950.2,1017.7 951.0,1033.2 951.8,1039.2 952.7,1036.0 953.5,1031.2 954.4,1050.2 955.2,1037.9 956.0,1033.1 956.9,1038.9 957.7,1059.6 958.6,1042.1 959.4,1049.9 960.2,1029.0 961.1,1041.7 961.9,1035.1 962.8,1035.2 963.6,1036.4 964.4,1036.2 965.3,1041.4 966.1,1033.2 967.0,1035.5 967.8,1034.9 968.6,1037.0 969.5,1035.8 970.3,1022.3 971.2,1042.3 972.0,1037.7 972.8,1029.2 973.7,1036.4 974.5,1046.6 975.4,1046.1 976.2,1036.1 977.0,1033.1 977.9,1053.4 978.7,1042.7 979.6,1041.5 980.4,1037.8 981.2,1048.7 982.1,1033.0 982.9,1047.9 983.8,1047.3 984.6,1041.2 985.4,1038.8 986.3,1045.1 987.1,1039.9 988.0,1040.7 988.8,1037.5 989.6,1049.7 990.5,1033.4 991.3,1043.4 992.2,1042.8 993.0,1075.3 993.8,1031.2 994.7,1046.1 995.5,1038.2 996.4,1066.2 997.2,1034.7 998.0,1062.3 998.9,1050.7 999.7,1040.5 1000.6,1047.5 1001.4,1044.9 1002.2,1049.9 1003.1,1058.8 1003.9,1051.2 1004.8,1077.9 1005.6,1065.1 1006.4,1047.4 1007.3,1044.7 1008.1,1057.6 1009.0,1052.9 1009.8,1051.6 1010.6,1068.4 1011.5,1058.0 1012.3,1053.8 1013.2,1059.0 1014.0,1059.4 1014.8,1064.5 1015.7,1058.3 1016.5,1059.3 1017.4,1052.7 1018.2,1065.5 1019.0,1068.6 1019.9,1037.9 1020.7,1062.4 1021.6,1073.6 1022.4,1064.9 1023.2,1062.9 1024.1,1054.1 1024.9,1077.5 1025.8,1056.6 1026.6,1063.8 1027.4,1061.6 1028.3,1058.8 1029.1,1069.6 1030.0,1068.4 1030.8,1056.8 1031.6,1057.0 1032.5,1064.1 1033.3,1056.6 1034.2,1062.4 1035.0,1053.5 1035.8,1054.3 1036.7,1056.4 1037.5,1055.8 1038.4,1057.6 1039.2,1055.1 1040.0,1054.3 1040.9,1057.9 1041.7,1055.3 1042.6,1058.2 1043.4,1059.1 1044.2,1068.6 1045.1,1059.9 1045.9,1061.7 1046.8,1068.5 1047.6,1061.1 1048.4,1059.6 1049.3,1062.8 1050.1,1066.5 1051.0,1060.7 1051.8,1065.6 1052.6,1063.2 1053.5,1063.9 1054.3,1065.3 1055.2,1064.0 1056.0,1060.6 1056.8,1061.7 1057.7,1055.7 1058.5,1071.2 1059.4,1067.1 1060.2,1074.6 1061.0,1064.3 1061.9,1067.0 1062.7,1067.4 1063.6,1061.7 1064.4,1067.9 1065.2,1068.7 1066.1,1067.3 1066.9,1066.6 1067.8,1065.2 1068.6,1060.5 1069.4,1070.0 1070.3,1065.3 1071.1,1061.8 1072.0,1086.4 1072.8,1078.5 1073.6,1070.5 1074.5,1072.4 1075.3,1069.0 1076.2,1091.6 1077.0,1072.1 1077.8,1080.8 1078.7,1079.3 1079.5,1059.1 1080.4,1063.7 1081.2,1077.1 1082.0,1063.7 1082.9,1088.2 1083.7,1092.9 1084.6,1079.5 1085.4,1075.6 1086.2,1073.8 1087.1,1071.6 1087.9,1078.0 1088.8,1072.2 1089.6,1073.5 1090.4,1079.1 1091.3,1081.8 1092.1,1077.5 1093.0,1085.1 1093.8,1079.5 1094.6,1075.2 1095.5,1074.4 1096.3,1072.4 1097.2,1077.9 1098.0,1074.9 1098.8,1078.5 1099.7,1074.4 1100.5,1077.7 1101.4,1075.4 1102.2,1074.2 1103.0,1075.8 1103.9,1076.8 1104.7,1069.6 1105.6,1079.9 1106.4,1073.1 1107.2,1079.1 1108.1,1079.6 1108.9,1083.4 1109.8,1078.2 1110.6,1084.1 1111.4,1086.1 1112.3,1081.2 1113.1,1084.0 1114.0,1082.7 1114.8,1087.4 1115.6,1091.5 1116.5,1084.9 1117.3,1065.8 1118.2,1095.3 1119.0,1087.0 1119.8,1080.7 1120.7,1090.3 1121.5,1086.5 1122.4,1081.3 1123.2,1085.6 1124.0,1089.8 1124.9,1086.1 1125.7,1080.2 1126.6,1074.0 1127.4,1084.8 1128.2,1089.0 1129.1,1082.6 1129.9,1082.8 1130.8,1087.8 1131.6,1083.8 1132.4,1097.7 1133.3,1085.6 1134.1,1089.0 1135.0,1078.9 1135.8,1082.8 1136.6,1096.9 1137.5,1065.3 1138.3,1081.4 1139.2,1085.1 1140.0,1080.0 1140.8,1076.1 1141.7,1084.6 1142.5,1077.4 1143.4,1081.6 1144.2,1078.1 1145.0,1089.9 1145.9,1079.7 1146.7,1095.7 1147.6,1090.2 1148.4,1089.7 1149.2,1086.9 1150.1,1091.1 1150.9,1090.4 1151.8,1097.9 1152.6,1094.2 1153.4,1084.1 1154.3,1102.4 1155.1,1108.1 1156.0,1109.4 1156.8,1094.5 1157.6,1096.6 1158.5,1098.6 1159.3,1091.8 1160.2,1096.4 1161.0,1095.6 1161.8,1101.6 1162.7,1087.2 1163.5,1104.0 1164.4,1086.2 1165.2,1104.3 1166.0,1097.4 1166.9,1094.4 1167.7,1096.3 1168.6,1105.6 1169.4,1094.7 1170.2,1101.9 1171.1,1104.0 1171.9,1096.7 1172.8,1099.4 1173.6,1099.0 1174.4,1106.5 1175.3,1095.3 1176.1,1098.1 1177.0,1100.9 1177.8,1094.6 1178.6,1097.1 1179.5,1102.9 1180.3,1101.3 1181.2,1100.6 1182.0,1105.7 1182.8,1097.4 1183.7,1108.0 1184.5,1098.8 1185.4,1108.5 1186.2,1103.6 1187.0,1103.7 1187.9,1102.3 1188.7,1105.0 1189.6,1099.4 1190.4,1104.6 1191.2,1095.2 1192.1,1103.7 1192.9,1115.8 1193.8,1114.7 1194.6,1099.0 1195.4,1110.2 1196.3,1103.4 1197.1,1101.7 1198.0,1101.0 1198.8,1101.6 1199.6,1101.6 1200.5,1112.6 1201.3,1105.2 1202.2,1096.7 1203.0,1105.4 1203.8,1102.6 1204.7,1119.1 1205.5,1099.0 1206.4,1104.2 1207.2,1101.4 1208.0,1097.9 1208.9,1095.2 1209.7,1108.4 1210.6,1086.6 1211.4,1098.6 1212.2,1101.5 1213.1,1099.4 1213.9,1102.4 1214.8,1097.2 1215.6,1105.8 1216.4,1103.0 1217.3,1103.8 1218.1,1116.5 1219.0,1097.2 1219.8,1102.2 1220.6,1097.0 1221.5,1100.2 1222.3,1102.8 1223.2,1106.4 1224.0,1097.9 1224.8,1107.9 1225.7,1106.1 1226.5,1102.9 1227.4,1110.3 1228.2,1102.5 1229.0,1120.7 1229.9,1117.3 1230.7,1102.6 1231.6,1116.5 1232.4,1107.9 1233.2,1104.5 1234.1,1106.1 1234.9,1110.1 1235.8,1119.3 1236.6,1115.2 1237.4,1120.0 1238.3,1105.9 1239.1,1085.6 1240.0,1101.0 1240.8,1107.1 1241.6,1099.9 1242.5,1110.1 1243.3,1102.0 1244.2,1107.8 1245.0,1108.3 1245.8,1121.4 1246.7,1111.7 1247.5,1104.0 1248.4,1117.2 1249.2,1125.6 1250.0,1117.2 1250.9,1091.0 1251.7,1120.2 1252.6,1108.8 1253.4,1118.8 1254.2,1118.6 1255.1,1115.3 1255.9,1103.4 1256.8,1111.2 1257.6,1105.9 1258.4,1116.1 1259.3,1103.1 1260.1,1111.4 1261.0,1114.7 1261.8,1116.1 1262.6,1110.8 1263.5,1104.2 1264.3,1116.6 1265.2,1109.1 1266.0,1111.0 1266.8,1096.1 1267.7,1109.3 1268.5,1119.3 1269.4,1113.6 1270.2,1113.5 1271.0,1112.0 1271.9,1106.7 1272.7,1108.6 1273.6,1120.5 1274.4,1106.1 1275.2,1113.3 1276.1,1110.7 1276.9,1114.2 1277.8,1107.3 1278.6,1106.2 1279.4,1112.4 1280.3,1109.7 1281.1,1115.4 1282.0,1127.3 1282.8,1107.5 1283.6,1109.8 1284.5,1108.5 1285.3,1111.6 1286.2,1109.8 1287.0,1113.7 1287.8,1111.8 1288.7,1113.1 1289.5,1118.2 1290.4,1118.4 1291.2,1109.1 1292.0,1110.7 1292.9,1114.2 1293.7,1113.4 1294.6,1102.2 1295.4,1116.6 1296.2,1117.8 1297.1,1113.4 1297.9,1107.9 1298.8,1116.6 1299.6,1105.1 1300.4,1105.1 1301.3,1115.4 1302.1,1114.1 1303.0,1131.8 1303.8,1111.7 1304.6,1110.2 1305.5,1113.0 1306.3,1122.0 1307.2,1117.9 1308.0,1095.5 1308.8,1108.8 1309.7,1127.5 1310.5,1116.6 1311.4,1115.0 1312.2,1106.2 1313.0,1112.0 1313.9,1098.7 1314.7,1123.2 1315.6,1127.8 1316.4,1117.3 1317.2,1122.1 1318.1,1109.8 1318.9,1114.0 1319.8,1119.1 1320.6,1120.4 1321.4,1119.2 1322.3,1107.7 1323.1,1130.4 1324.0,1114.0 1324.8,1121.3 1325.6,1126.7 1326.5,1110.3 1327.3,1118.4 1328.2,1120.8 1329.0,1144.8 1329.8,1122.9 1330.7,1118.5 1331.5,1123.1 1332.4,1120.1 1333.2,1109.6 1334.0,1114.4 1334.9,1122.3 1335.7,1123.5 1336.6,1119.7 1337.4,1116.1 1338.2,1105.1 1339.1,1126.1 1339.9,1114.5 1340.8,1125.3 1341.6,1136.5 1342.4,1128.4 1343.3,1122.4 1344.1,1105.7 1345.0,1124.4 1345.8,1142.6 1346.6,1117.5 1347.5,1127.9 1348.3,1121.1 1349.2,1125.6 1350.0,1124.1 1350.8,1117.4 1351.7,1120.1 1352.5,1110.7 1353.4,1112.1 1354.2,1117.0 1355.0,1123.1 1355.9,1118.7 1356.7,1126.6 1357.6,1121.8 1358.4,1128.7 1359.2,1123.9 1360.1,1119.0 1360.9,1112.3 1361.8,1119.4 1362.6,1119.5 1363.4,1112.9 1364.3,1114.2 1365.1,1132.8 1366.0,1123.3 1366.8,1117.8 1367.6,1108.2 1368.5,1116.8 1369.3,1119.6 1370.2,1129.3 1371.0,1108.3 1371.8,1121.6 1372.7,1128.5 1373.5,1129.1 1374.4,1120.5 1375.2,1122.8 1376.0,1121.5 1376.9,1108.6 1377.7,1118.0 1378.6,1127.5 1379.4,1114.9 1380.2,1116.6 1381.1,1121.4 1381.9,1125.7 1382.8,1119.7 1383.6,1121.5 1384.4,1131.1 1385.3,1124.5 1386.1,1109.5 1387.0,1122.5 1387.8,1116.4 1388.6,1128.8 1389.5,1123.2 1390.3,1126.6 1391.2,1121.5 1392.0,1115.3 1392.8,1119.1 1393.7,1116.6 1394.5,1124.0 1395.4,1126.3 1396.2,1121.9 1397.0,1126.1 1397.9,1119.7 1398.7,1122.2 1399.6,1122.2 1400.4,1122.9 1401.2,1111.6 1402.1,1118.8 1402.9,1116.7 1403.8,1125.3 1404.6,1123.6 1405.4,1143.5 1406.3,1125.7 1407.1,1119.7 1408.0,1116.2 1408.8,1127.1 1409.6,1130.6 1410.5,1117.3 1411.3,1125.3 1412.2,1140.4 1413.0,1135.8 1413.8,1116.0 1414.7,1125.7 1415.5,1135.2 1416.4,1127.7 1417.2,1103.6 1418.0,1123.8 1418.9,1122.3 1419.7,1123.8 1420.6,1149.9 1421.4,1133.9 1422.2,1155.3 1423.1,1132.4 1423.9,1145.2 1424.8,1124.3 1425.6,1139.4 1426.4,1125.8 1427.3,1131.3 1428.1,1118.9 1429.0,1133.4 1429.8,1122.9 1430.6,1137.1 1431.5,1121.1 1432.3,1122.4 1433.2,1123.7 1434.0,1131.4 1434.8,1126.5 1435.7,1119.5 1436.5,1122.7 1437.4,1128.6 1438.2,1129.6 1439.0,1125.3 1439.9,1119.9 1440.7,1130.1 1441.6,1120.3 1442.4,1123.9 1443.2,1126.1 1444.1,1125.0 1444.9,1113.7 1445.8,1120.8 1446.6,1129.5 1447.4,1128.2 1448.3,1133.1 1449.1,1130.9 1450.0,1131.5 1450.8,1137.5 1451.6,1141.2 1452.5,1128.9 1453.3,1138.7 1454.2,1148.3 1455.0,1126.4 1455.8,1132.9 1456.7,1133.2 1457.5,1132.5 1458.4,1138.1 1459.2,1108.5 1460.0,1118.3 1460.9,1132.6 1461.7,1124.2 1462.6,1126.0 1463.4,1119.2 1464.2,1137.4 1465.1,1123.7 1465.9,1112.9 1466.8,1130.3 1467.6,1122.0 1468.4,1116.9 1469.3,1111.1 1470.1,1105.0 1471.0,1124.8 1471.8,1111.6 1472.6,1114.3 1473.5,1118.8 1474.3,1108.4 1475.2,1121.0 1476.0,1119.7 1476.8,1119.7 1477.7,1116.3 1478.5,1115.1 1479.4,1121.6 1480.2,1133.7 1481.0,1118.7 1481.9,1126.2 1482.7,1111.9 1483.6,1121.2 1484.4,1113.7 1485.2,1114.5 1486.1,1103.5 1486.9,1127.6 1487.8,1111.2 1488.6,1113.2 1489.4,1115.2 1490.3,1116.3 1491.1,1122.3 1492.0,1108.2 1492.8,1107.8 1493.6,1113.7 1494.5,1125.7 1495.3,1124.0 1496.2,1127.2 1497.0,1119.0 1497.8,1097.3 1498.7,1120.6 1499.5,1116.3 1500.4,1112.3 1501.2,1117.1 1502.0,1123.6 1502.9,1121.5 1503.7,1124.4 1504.6,1122.5 1505.4,1122.1 1506.2,1121.7 1507.1,1125.7 1507.9,1123.8 1508.8,1123.5 1509.6,1119.0 1510.4,1116.4 1511.3,1125.9 1512.1,1123.1 1513.0,1125.5 1513.8,1118.8 1514.6,1102.4 1515.5,1126.1 1516.3,1115.4 1517.2,1125.5 1518.0,1109.0 1518.8,1112.4 1519.7,1113.5 1520.5,1114.7 1521.4,1127.1 1522.2,1105.1 1523.0,1118.8 1523.9,1121.7 1524.7,1121.1 1525.6,1122.7 1526.4,1120.4 1527.2,1112.6 1528.1,1109.3 1528.9,1123.1 1529.8,1115.5 1530.6,1111.7 1531.4,1114.7 1532.3,1110.1 1533.1,1120.7 1534.0,1112.1 1534.8,1117.0 1535.6,1114.7 1536.5,1116.1 1537.3,1124.6 1538.2,1114.4 1539.0,1107.7 1539.8,1116.1 1540.7,1111.0 1541.5,1109.8 1542.4,1117.5 1543.2,1109.0 1544.0,1110.4 1544.9,1112.6 1545.7,1117.4 1546.6,1117.6 1547.4,1112.8 1548.2,1094.5 1549.1,1094.7 1549.9,1107.5 1550.8,1135.1 1551.6,1114.7 1552.4,1115.6 1553.3,1118.4 1554.1,1116.0 1555.0,1110.6 1555.8,1119.5 1556.6,1111.6 1557.5,1115.2 1558.3,1101.6 1559.2,1119.4 1560.0,1122.9 1560.8,1116.1 1561.7,1106.7 1562.5,1116.8 1563.4,1112.7 1564.2,1113.9 1565.0,1120.7 1565.9,1120.0 1566.7,1119.7 1567.6,1117.3 1568.4,1119.5 1569.2,1117.7 1570.1,1116.5 1570.9,1107.3 1571.8,1126.0 1572.6,1116.1 1573.4,1124.8 1574.3,1126.9 1575.1,1116.2 1576.0,1119.9 1576.8,1117.7 1577.6,1123.4 1578.5,1141.2 1579.3,1090.9 1580.2,1125.9 1581.0,1112.0 1581.8,1111.1 1582.7,1120.5 1583.5,1111.7 1584.4,1116.7 1585.2,1107.3 1586.0,1091.0 1586.9,1116.3 1587.7,1108.1 1588.6,1128.8 1589.4,1095.0 1590.2,1105.4 1591.1,1130.9 1591.9,1111.0 1592.8,1117.8 1593.6,1096.8 1594.4,1119.1 1595.3,1115.7 1596.1,1122.5 1597.0,1118.7 1597.8,1117.8 1598.6,1114.7 1599.5,1115.9 1600.3,1120.0 1601.2,1112.5 1602.0,1117.2 1602.8,1105.4 1603.7,1122.9 1604.5,1115.7 1605.4,1106.1 1606.2,1108.7 1607.0,1111.1 1607.9,1101.3 1608.7,1113.3 1609.6,1113.6 1610.4,1113.9 1611.2,1111.7 1612.1,1107.2 1612.9,1116.8 1613.8,1111.9 1614.6,1088.4 1615.4,1116.6 1616.3,1097.4 1617.1,1113.7 1618.0,1112.6 1618.8,1122.3 1619.6,1121.5 1620.5,1109.7 1621.3,1112.5 1622.2,1103.5 1623.0,1111.7 1623.8,1108.3 1624.7,1110.0 1625.5,1109.4 1626.4,1120.9 1627.2,1111.7 1628.0,1117.3 1628.9,1109.8 1629.7,1108.2 1630.6,1124.4 1631.4,1107.6 1632.2,1096.4 1633.1,1105.2 1633.9,1113.7 1634.8,1108.9 1635.6,1114.5 1636.4,1112.3 1637.3,1119.0 1638.1,1102.4 1639.0,1118.0 1639.8,1103.8 1640.6,1109.0 1641.5,1122.5 1642.3,1107.8 1643.2,1111.5 1644.0,1108.7 1644.8,1101.7 1645.7,1111.3 1646.5,1098.3 1647.4,1097.0 1648.2,1111.1 1649.0,1109.4 1649.9,1118.9 1650.7,1112.2 1651.6,1110.3 1652.4,1108.7 1653.2,1123.0 1654.1,1119.1 1654.9,1114.6 1655.8,1105.0 1656.6,1114.7 1657.4,1100.2 1658.3,1105.1 1659.1,1112.9 1660.0,1101.1 1660.8,1101.2 1661.6,1116.1 1662.5,1121.8 1663.3,1111.0 1664.2,1123.5 1665.0,1108.3 1665.8,1115.6 1666.7,1114.8 1667.5,1122.1 1668.4,1118.0 1669.2,1118.4 1670.0,1106.4 1670.9,1111.8 1671.7,1114.3 1672.6,1121.4 1673.4,1126.1 1674.2,1129.4 1675.1,1125.7 1675.9,1125.1 1676.8,1125.8 1677.6,1121.7 1678.4,1107.7 1679.3,1112.0 1680.1,1109.4 1681.0,1123.5 1681.8,1123.4 1682.6,1115.1 1683.5,1117.9 1684.3,1114.0 1685.2,1125.8 1686.0,1123.5 1686.8,1121.3 1687.7,1119.5 1688.5,1117.7 1689.4,1116.6 1690.2,1109.9 1691.0,1116.2 1691.9,1116.4 1692.7,1116.8 1693.6,1105.3 1694.4,1123.2 1695.2,1115.9 1696.1,1114.9 1696.9,1108.8 1697.8,1111.8 1698.6,1112.8 1699.4,1106.0 1700.3,1112.2 1701.1,1110.7 1702.0,1113.3 1702.8,1109.1 1703.6,1110.4 1704.5,1119.1 1705.3,1109.1 1706.2,1086.8 1707.0,1096.8 1707.8,1106.2 1708.7,1106.9 1709.5,1109.0 1710.4,1106.8 1711.2,1106.9 1712.0,1096.9 1712.9,1113.8 1713.7,1108.1 1714.6,1119.3 1715.4,1117.5 1716.2,1122.5 1717.1,1110.4 1717.9,1096.3 1718.8,1107.4 1719.6,1108.7 1720.4,1104.5 1721.3,1093.7 1722.1,1112.6 1723.0,1113.7 1723.8,1103.1 1724.6,1086.4 1725.5,1112.7 1726.3,1112.2 1727.2,1102.1 1728.0,1104.0 1728.8,1105.9 1729.7,1113.4 1730.5,1119.7 1731.4,1118.7 1732.2,1105.7 1733.0,1109.9 1733.9,1113.5 1734.7,1115.4 1735.6,1108.7 1736.4,1111.8 1737.2,1116.2 1738.1,1117.0 1738.9,1119.4 1739.8,1115.4 1740.6,1095.1 1741.4,1109.7 1742.3,1115.4 1743.1,1111.7 1744.0,1135.2 1744.8,1110.7 1745.6,1122.4 1746.5,1109.7 1747.3,1119.0 1748.2,1117.5 1749.0,1135.8 1749.8,1116.8 1750.7,1124.3 1751.5,1121.6 1752.4,1113.2 1753.2,1115.2 1754.0,1107.6 1754.9,1111.3 1755.7,1122.0 1756.6,1111.9 1757.4,1114.5 1758.2,1112.5 1759.1,1121.5 1759.9,1112.3 1760.8,1118.8 1761.6,1113.4 1762.4,1123.7 1763.3,1113.8 1764.1,1120.5 1765.0,1130.5 1765.8,1122.1 1766.6,1120.8 1767.5,1123.0 1768.3,1119.1 1769.2,1112.5 1770.0,1122.5 1770.8,1126.5 1771.7,1115.9 1772.5,1118.9 1773.4,1125.0 1774.2,1115.6 1775.0,1116.4 1775.9,1116.5 1776.7,1111.5 1777.6,1128.3 1778.4,1120.4 1779.2,1120.8 1780.1,1122.8 1780.9,1126.3 1781.8,1118.1 1782.6,1135.8 1783.4,1092.1 1784.3,1113.5 1785.1,1111.8 1786.0,1119.8 1786.8,1122.9 1787.6,1125.7 1788.5,1139.8 1789.3,1130.7 1790.2,1118.8 1791.0,1119.4 1791.8,1119.8 1792.7,1096.5 1793.5,1119.4 1794.4,1123.0 1795.2,1108.0 1796.0,1117.2 1796.9,1113.5 1797.7,1111.7 1798.6,1118.4 1799.4,1120.2 1800.2,1113.4 1801.1,1123.0 1801.9,1123.2 1802.8,1142.2 1803.6,1124.9 1804.4,1106.0 1805.3,1116.0 1806.1,1132.7 1807.0,1117.7 1807.8,1119.6 1808.6,1124.1 1809.5,1129.6 1810.3,1125.0 1811.2,1109.8 1812.0,1124.5 1812.8,1139.4 1813.7,1122.9 1814.5,1129.8 1815.4,1125.1 1816.2,1116.5 1817.0,1126.8 1817.9,1128.8 1818.7,1136.0 1819.6,1123.6 1820.4,1136.5 1821.2,1120.9 1822.1,1125.5 1822.9,1126.9 1823.8,1143.1 1824.6,1125.4 1825.4,1124.3 1826.3,1108.9 1827.1,1121.2 1828.0,1128.4 1828.8,1130.1 1829.6,1124.3 1830.5,1140.7 1831.3,1103.9 1832.2,1127.2 1833.0,1122.3 1833.8,1125.0 1834.7,1121.9 1835.5,1115.6 1836.4,1116.9 1837.2,1114.0 1838.0,1127.5 1838.9,1151.0 1839.7,1118.0 1840.6,1137.0 1841.4,1130.5 1842.2,1124.5 1843.1,1120.8 1843.9,1122.7 1844.8,1146.7 1845.6,1130.6 1846.4,1152.8 1847.3,1126.4 1848.1,1123.1 1849.0,1131.3 1849.8,1121.9 1850.6,1131.1 1851.5,1132.0 1852.3,1143.4 1853.2,1135.0 1854.0,1113.7 1854.8,1120.8 1855.7,1114.1 1856.5,1134.5 1857.4,1135.2 1858.2,1135.4 1859.0,1142.4 1859.9,1131.1 1860.7,1136.2 1861.6,1143.0 1862.4,1139.3 1863.2,1135.4 1864.1,1126.5 1864.9,1128.2 1865.8,1151.9 1866.6,1131.4 1867.4,1124.8 1868.3,1144.0 1869.1,1140.3 1870.0,1139.4 1870.8,1142.5 1871.6,1136.0 1872.5,1138.1 1873.3,1136.0 1874.2,1132.4 1875.0,1141.1 1875.8,1136.5 1876.7,1136.3 1877.5,1138.2 1878.4,1138.8 1879.2,1141.0 1880.0,1138.7 1880.9,1132.5 1881.7,1124.7 1882.6,1136.0 1883.4,1129.3 1884.2,1133.5 1885.1,1143.0 1885.9,1122.0 1886.8,1133.4 1887.6,1130.2 1888.4,1135.6 1889.3,1136.1 1890.1,1131.7 1891.0,1149.9 1891.8,1137.3 1892.6,1127.4 1893.5,1142.6 1894.3,1139.7 1895.2,1135.3 1896.0,1142.7 1896.8,1142.7 1897.7,1134.8 1898.5,1150.4 1899.4,1140.6 1900.2,1122.3 1901.0,1131.3 1901.9,1115.9 1902.7,1141.1 1903.6,1129.6 1904.4,1139.0 1905.2,1139.6 1906.1,1127.2 1906.9,1163.0 1907.8,1152.1 1908.6,1161.9 1909.4,1139.2 1910.3,1138.5 1911.1,1135.5 1912.0,1159.7 1912.8,1145.4 1913.6,1136.8 1914.5,1125.9 1915.3,1147.4 1916.2,1140.6 1917.0,1142.3 1917.8,1147.8 1918.7,1148.7 1919.5,1145.0 1920.4,1151.4 1921.2,1145.1 1922.0,1145.0 1922.9,1147.6 1923.7,1146.8 1924.6,1143.4 1925.4,1151.0 1926.2,1150.1 1927.1,1141.3 1927.9,1149.2 1928.8,1148.9 1929.6,1149.7 1930.4,1150.1 1931.3,1152.8 1932.1,1149.3 1932.5,1150.5" stroke="#0066DD"/>
<path d="M258.0,150.3 258.8,177.4 259.7,134.6 260.5,176.3 261.4,143.3 262.2,146.7 263.0,161.0 263.9,145.8 264.7,149.1 265.6,113.7 266.4,155.6 267.2,148.0 268.1,142.0 268.9,156.6 269.8,140.5 270.0,145.1 270.6,131.4 271.4,145.0 272.3,137.6 273.1,141.3 274.0,158.4 274.8,143.5 275.6,151.0 276.5,193.5 277.3,185.9 278.2,161.5 279.0,155.6 279.8,147.4 280.7,140.8 281.5,194.9 282.4,158.0 283.2,138.1 284.0,163.1 284.9,171.3 285.0,163.6 285.7,185.2 286.6,124.6 287.4,160.6 288.2,158.6 289.1,131.6 289.9,164.0 290.8,175.6 291.6,162.1 292.4,151.0 293.3,173.8 294.1,159.5 295.0,159.4 295.8,167.8 296.6,144.2 297.5,171.2 298.3,164.3 299.2,168.8 300.0,147.7 300.8,169.6 301.7,148.3 302.5,139.1 303.4,173.3 304.2,173.8 305.0,175.2 305.9,159.6 306.7,154.1 307.6,118.8 308.4,164.4 309.2,167.0 310.1,172.5 310.9,155.8 311.8,153.4 312.6,165.1 313.4,171.2 314.3,187.2 315.1,151.3 316.0,162.4 316.8,177.1 317.6,161.7 318.5,165.1 319.3,137.2 320.2,167.5 321.0,179.5 321.8,173.1 322.7,176.6 323.5,167.8 324.4,159.1 325.2,171.1 326.0,158.1 326.9,173.8 327.7,148.0 328.6,173.7 329.4,155.7 330.2,162.6 331.1,161.1 331.9,169.2 332.8,156.0 333.6,163.0 334.4,129.4 335.3,159.2 336.1,163.4 337.0,150.8 337.8,167.9 338.6,162.4 339.5,170.6 340.3,168.5 341.2,163.6 342.0,177.9 342.8,168.0 343.7,174.6 344.5,161.2 345.4,166.4 346.2,157.3 347.0,206.7 347.9,161.6 348.7,163.2 349.6,152.4 350.4,165.5 351.2,179.8 352.1,178.5 352.9,162.4 353.8,173.4 354.6,175.5 355.4,181.5 356.3,177.8 357.1,181.1 358.0,190.2 358.8,186.2 359.6,178.8 360.5,181.3 361.3,180.3 362.2,170.3 363.0,176.5 363.8,180.2 364.7,181.9 365.5,182.6 366.4,188.9 367.2,213.5 368.0,195.9 368.9,197.3 369.7,196.8 370.6,193.0 371.4,207.7 372.2,196.8 373.1,193.3 373.9,177.7 374.8,194.6 375.6,187.6 376.4,183.7 377.3,194.8 378.1,201.4 379.0,190.4 379.8,200.3 380.6,194.7 381.5,185.5 382.3,212.7 383.2,192.5 384.0,190.4 384.8,201.3 385.7,185.3 386.5,199.4 387.4,189.2 388.2,195.0 389.0,191.9 389.9,206.9 390.7,197.2 391.6,223.4 392.4,203.0 393.2,205.5 394.1,202.6 394.9,198.9 395.8,201.8 396.6,224.0 397.4,197.0 398.3,241.7 399.1,214.0 400.0,204.5 400.8,211.9 401.6,206.6 402.5,207.3 403.3,211.0 404.2,174.9 405.0,212.4 405.8,244.3 406.7,207.6 407.5,221.5 408.4,213.5 409.2,206.4 410.0,232.8 410.9,182.7 411.7,212.2 412.6,256.4 413.4,212.1 414.2,230.1 415.1,221.6 415.9,228.6 416.8,223.3 417.6,218.4 418.4,228.1 419.3,197.5 420.1,222.0 421.0,221.1 421.8,223.7 422.6,213.9 423.5,219.0 424.3,226.8 425.2,224.5 426.0,233.7 426.8,229.8 427.7,238.3 428.5,234.3 429.4,232.1 430.2,227.0 431.0,238.3 431.9,227.6 432.7,219.3 433.6,254.1 434.4,235.8 435.2,242.0 436.1,237.2 436.9,239.5 437.8,217.8 438.6,231.6 439.4,243.3 440.3,241.9 441.1,232.7 442.0,260.5 442.8,234.0 443.6,244.1 444.5,235.0 445.3,250.0 446.2,241.7 447.0,236.8 447.8,229.2 448.7,240.5 449.5,242.0 450.4,250.8 451.2,249.6 452.0,271.0 452.9,271.1 453.7,259.1 454.6,255.4 455.4,262.4 456.2,271.0 457.1,225.1 457.9,240.1 458.8,250.5 459.6,238.2 460.4,256.3 461.3,248.3 462.1,248.7 463.0,249.8 463.8,239.3 464.6,262.5 465.5,259.8 466.3,259.0 467.2,228.9 468.0,255.6 468.8,262.5 469.7,245.3 470.5,255.5 471.4,223.9 472.2,239.8 473.0,250.9 473.9,258.5 474.7,260.2 475.6,277.5 476.4,257.2 477.2,228.4 478.1,274.8 478.9,241.0 479.8,246.0 480.6,293.3 481.4,273.1 482.3,261.7 483.1,252.0 484.0,264.3 484.8,263.4 485.6,283.3 486.5,266.8 487.3,249.5 488.2,290.9 489.0,273.4 489.8,254.9 490.7,255.1 491.5,271.2 492.4,253.9 493.2,276.4 494.0,276.5 494.9,243.9 495.7,285.2 496.6,284.7 497.4,295.4 498.2,280.9 499.1,282.3 499.9,265.1 500.8,245.3 501.6,257.9 502.4,310.1 503.3,286.5 504.1,308.1 505.0,281.6 505.8,294.3 506.6,266.8 507.5,278.0 508.3,284.7 509.2,293.2 510.0,294.7 510.8,294.8 511.7,294.5 512.5,299.2 513.4,325.8 514.2,299.4 515.0,312.6 515.9,281.6 516.7,301.7 517.6,306.8 518.4,309.6 519.2,301.7 520.1,307.5 520.9,331.8 521.8,315.6 522.6,315.4 523.4,296.5 524.3,296.0 525.1,309.9 526.0,307.1 526.8,351.3 527.6,284.1 528.5,319.3 529.3,303.1 530.2,327.6 531.0,302.8 531.8,307.5 532.7,310.0 533.5,323.0 534.4,331.8 535.2,340.7 536.0,326.1 536.9,327.7 537.7,345.4 538.6,342.8 539.4,322.6 540.2,348.1 541.1,350.8 541.9,329.3 542.8,344.6 543.6,332.4 544.4,335.8 545.3,344.7 546.1,346.5 547.0,346.7 547.8,349.3 548.6,339.7 549.5,359.9 550.3,344.6 551.2,372.0 552.0,352.7 552.8,347.0 553.7,341.0 554.5,353.3 555.4,350.8 556.2,357.8 557.0,354.9 557.9,325.5 558.7,368.4 559.6,330.3 560.4,368.9 561.2,368.4 562.1,379.1 562.9,362.6 563.8,345.5 564.6,357.5 565.4,357.9 566.3,363.3 567.1,357.1 568.0,365.6 568.8,350.9 569.6,357.6 570.5,363.0 571.3,360.7 572.2,346.9 573.0,393.7 573.8,369.2 574.7,376.6 575.5,360.9 576.4,390.0 577.2,376.6 578.0,402.0 578.9,355.9 579.7,366.3 580.6,364.7 581.4,371.3 582.2,361.6 583.1,352.3 583.9,370.5 584.8,375.5 585.6,369.8 586.4,413.8 587.3,372.2 588.1,369.7 589.0,386.8 589.8,376.3 590.6,371.4 591.5,372.8 592.3,403.5 593.2,407.6 594.0,384.9 594.8,376.0 595.7,388.7 596.5,375.1 597.4,380.1 598.2,386.5 599.0,384.2 599.9,383.6 600.7,418.4 601.6,378.0 602.4,392.5 603.2,364.9 604.1,374.5 604.9,383.7 605.8,432.6 606.6,399.2 607.4,406.7 608.3,371.8 609.1,398.9 610.0,393.8 610.8,393.7 611.6,400.8 612.5,391.8 613.3,396.9 614.2,391.2 615.0,395.3 615.8,398.5 616.7,388.2 617.5,393.6 618.4,397.7 619.2,399.1 620.0,407.7 620.9,403.3 621.7,402.0 622.6,412.3 623.4,394.2 624.2,389.6 625.1,400.7 625.9,393.5 626.8,406.1 627.6,407.7 628.4,396.6 629.3,413.6 630.1,411.1 631.0,409.9 631.8,428.1 632.6,424.7 633.5,408.0 634.3,406.6 635.2,433.5 636.0,408.4 636.8,426.7 637.7,417.1 638.5,419.6 639.4,424.9 640.2,443.1 641.0,388.3 641.9,416.8 642.7,434.5 643.6,427.8 644.4,425.9 645.2,458.1 646.1,426.0 646.9,438.3 647.8,459.8 648.6,440.7 649.4,438.8 650.3,439.5 651.1,443.5 652.0,426.9 652.8,436.9 653.6,444.1 654.5,450.7 655.3,453.0 656.2,453.1 657.0,415.8 657.8,431.5 658.7,433.9 659.5,452.1 660.4,433.5 661.2,428.7 662.0,401.4 662.9,430.3 663.7,444.9 664.6,403.5 665.4,425.5 666.2,432.2 667.1,437.8 667.9,434.3 668.8,451.5 669.6,429.5 670.4,439.3 671.3,445.8 672.1,456.3 673.0,451.0 673.8,427.4 674.6,446.8 675.5,443.2 676.3,438.4 677.2,415.1 678.0,431.5 678.8,446.8 679.7,426.7 680.5,438.0 681.4,436.8 682.2,448.0 683.0,440.3 683.9,429.6 684.7,441.4 685.6,440.9 686.4,448.9 687.2,441.5 688.1,449.0 688.9,446.3 689.8,457.0 690.6,451.0 691.4,445.4 692.3,447.0 693.1,447.2 694.0,457.5 694.8,439.5 695.6,447.5 696.5,449.3 697.3,448.0 698.2,450.6 699.0,449.3 699.8,448.2 700.7,452.7 701.5,447.1 702.4,451.5 703.2,454.1 704.0,441.7 704.9,447.8 705.7,464.6 706.6,467.7 707.4,475.9 708.2,435.9 709.1,457.8 709.9,464.0 710.8,461.5 711.6,455.2 712.4,454.6 713.3,455.6 714.1,453.3 715.0,457.5 715.8,453.2 716.6,449.2 717.5,444.5 718.3,466.0 719.2,460.7 720.0,450.2 720.8,464.4 721.7,455.0 722.5,461.3 723.4,457.5 724.2,454.7 725.0,454.0 725.9,448.1 726.7,449.0 727.6,449.0 728.4,451.5 729.2,473.4 730.1,466.1 730.9,456.0 731.8,467.7 732.6,468.0 733.4,466.9 734.3,459.5 735.1,465.3 736.0,477.3 736.8,463.6 737.6,465.6 738.5,482.0 739.3,458.4 740.2,469.8 741.0,464.1 741.8,471.6 742.7,460.9 743.5,464.3 744.4,460.5 745.2,474.9 746.0,478.8 746.9,465.2 747.7,492.4 748.6,467.6 749.4,471.7 750.2,476.0 751.1,455.9 751.9,494.9 752.8,459.8 753.6,462.2 754.4,453.5 755.3,471.5 756.1,459.5 757.0,467.0 757.8,456.6 758.6,460.7 759.5,461.7 760.3,458.2 761.2,444.1 762.0,470.2 762.8,481.5 763.7,459.2 764.5,457.2 765.4,462.8 766.2,453.5 767.0,468.1 767.9,464.2 768.7,467.8 769.6,479.6 770.4,477.6 771.2,482.9 772.1,485.4 772.9,471.0 773.8,469.9 774.6,447.5 775.4,456.5 776.3,471.9 777.1,484.0 778.0,471.1 778.8,432.4 779.6,464.6 780.5,481.5 781.3,462.0 782.2,464.6 783.0,468.4 783.8,476.5 784.7,485.2 785.5,466.2 786.4,476.4 787.2,475.0 788.0,473.4 788.9,476.2 789.7,483.7 790.6,467.2 791.4,474.7 792.2,460.5 793.1,475.1 793.9,482.4 794.8,508.8 795.6,474.7 796.4,470.9 797.3,476.7 798.1,473.0 799.0,464.0 799.8,475.9 800.6,482.6 801.5,487.5 802.3,500.5 803.2,473.1 804.0,470.0 804.8,463.2 805.7,474.5 806.5,483.7 807.4,469.2 808.2,486.1 809.0,480.5 809.9,467.7 810.7,478.5 811.6,485.0 812.4,494.1 813.2,465.4 814.1,485.5 814.9,483.4 815.8,469.1 816.6,470.8 817.4,499.8 818.3,472.8 819.1,470.6 820.0,481.8 820.8,463.1 821.6,475.5 822.5,472.7 823.3,476.5 824.2,477.5 825.0,478.1 825.8,474.3 826.7,486.2 827.5,483.0 828.4,488.5 829.2,474.4 830.0,478.7 830.9,474.1 831.7,471.7 832.6,476.5 833.4,484.9 834.2,478.6 835.1,472.3 835.9,471.8 836.8,478.6 837.6,478.1 838.4,481.8 839.3,471.4 840.1,482.8 841.0,477.0 841.8,475.3 842.6,476.8 843.5,497.7 844.3,490.9 845.2,471.2 846.0,478.0 846.8,483.6 847.7,467.8 848.5,468.1 849.4,469.5 850.2,489.5 851.0,480.7 851.9,480.9 852.7,488.6 853.6,481.7 854.4,488.3 855.2,483.4 856.1,482.5 856.9,484.5 857.8,480.1 858.6,476.1 859.4,495.2 860.3,495.6 861.1,488.1 862.0,491.7 862.8,496.7 863.6,488.7 864.5,493.6 865.3,495.0 866.2,481.6 867.0,485.2 867.8,496.3 868.7,495.9 869.5,488.4 870.4,499.7 871.2,499.4 872.0,493.1 872.9,493.7 873.7,488.6 874.6,496.2 875.4,489.6 876.2,498.0 877.1,499.4 877.9,499.2 878.8,488.8 879.6,500.5 880.4,503.0 881.3,493.4 882.1,501.3 883.0,505.8 883.8,496.0 884.6,510.5 885.5,516.7 886.3,505.0 887.2,509.6 888.0,499.6 888.8,505.3 889.7,513.8 890.5,490.7 891.4,509.0 892.2,499.2 893.0,508.3 893.9,504.9 894.7,508.1 895.6,501.4 896.4,501.9 897.2,513.5 898.1,490.5 898.9,494.9 899.8,519.6 900.6,512.5 901.4,493.6 902.3,520.3 903.1,496.8 904.0,511.2 904.8,512.0 905.6,479.1 906.5,472.1 907.3,496.9 908.2,514.4 909.0,506.2 909.8,497.5 910.7,509.0 911.5,495.2 912.4,495.9 913.2,490.8 914.0,519.2 914.9,506.1 915.7,497.4 916.6,492.3 917.4,521.2 918.2,495.4 919.1,489.4 919.9,495.5 920.8,502.9 921.6,505.5 922.4,485.9 923.3,519.4 924.1,504.6 925.0,484.1 925.8,511.8 926.6,526.8 927.5,513.1 928.3,473.6 929.2,505.2 930.0,507.9 930.8,518.5 931.7,508.0 932.5,495.1 933.4,524.1 934.2,526.9 935.0,511.0 935.9,496.7 936.7,520.3 937.6,517.0 938.4,530.8 939.2,485.0 940.1,509.8 940.9,506.4 941.8,499.5 942.6,512.9 943.4,505.7 944.3,491.3 945.1,498.5 946.0,512.3 946.8,507.1 947.6,499.8 948.5,507.5 949.3,495.5 950.2,505.9 951.0,505.6 951.8,478.2 952.7,503.5 953.5,507.2 954.4,508.1 955.2,506.9 956.0,513.1 956.9,508.2 957.7,515.9 958.6,502.2 959.4,485.2 960.2,496.5 961.1,499.7 961.9,486.2 962.8,492.8 963.6,503.9 964.4,498.8 965.3,499.6 966.1,508.6 967.0,512.9 967.8,513.7 968.6,502.3 969.5,509.0 970.3,514.5 971.2,496.8 972.0,499.3 972.8,509.2 973.7,502.2 974.5,500.2 975.4,505.5 976.2,482.1 977.0,507.7 977.9,491.0 978.7,504.0 979.6,503.5 980.4,507.1 981.2,500.0 982.1,510.7 982.9,515.2 983.8,508.9 984.6,527.4 985.4,522.7 986.3,509.3 987.1,493.5 988.0,520.1 988.8,508.6 989.6,511.6 990.5,516.6 991.3,546.7 992.2,512.2 993.0,516.0 993.8,519.1 994.7,520.7 995.5,511.6 996.4,519.7 997.2,519.2 998.0,521.7 998.9,509.4 999.7,510.6 1000.6,540.2 1001.4,527.4 1002.2,527.9 1003.1,534.3 1003.9,537.7 1004.8,520.9 1005.6,527.0 1006.4,525.2 1007.3,524.4 1008.1,526.6 1009.0,522.0 1009.8,531.9 1010.6,524.4 1011.5,519.4 1012.3,505.4 1013.2,529.4 1014.0,523.8 1014.8,543.0 1015.7,524.0 1016.5,527.5 1017.4,551.7 1018.2,531.8 1019.0,543.7 1019.9,538.1 1020.7,524.5 1021.6,528.9 1022.4,533.3 1023.2,544.9 1024.1,533.6 1024.9,536.4 1025.8,536.4 1026.6,533.5 1027.4,541.7 1028.3,521.2 1029.1,530.2 1030.0,542.0 1030.8,536.5 1031.6,534.6 1032.5,532.2 1033.3,525.1 1034.2,532.9 1035.0,556.8 1035.8,534.2 1036.7,533.6 1037.5,557.3 1038.4,541.3 1039.2,557.0 1040.0,546.3 1040.9,533.2 1041.7,526.8 1042.6,531.4 1043.4,526.3 1044.2,534.9 1045.1,518.5 1045.9,526.4 1046.8,534.6 1047.6,525.0 1048.4,526.8 1049.3,512.2 1050.1,519.6 1051.0,541.9 1051.8,525.6 1052.6,519.9 1053.5,522.6 1054.3,528.3 1055.2,528.6 1056.0,530.0 1056.8,517.8 1057.7,516.2 1058.5,524.0 1059.4,521.9 1060.2,522.4 1061.0,515.3 1061.9,518.0 1062.7,525.9 1063.6,518.6 1064.4,525.7 1065.2,504.8 1066.1,535.9 1066.9,514.7 1067.8,520.0 1068.6,532.0 1069.4,515.8 1070.3,515.1 1071.1,541.8 1072.0,530.1 1072.8,520.7 1073.6,508.2 1074.5,521.8 1075.3,516.7 1076.2,516.0 1077.0,531.4 1077.8,522.2 1078.7,520.3 1079.5,510.5 1080.4,519.6 1081.2,527.4 1082.0,518.9 1082.9,519.3 1083.7,522.5 1084.6,518.5 1085.4,522.1 1086.2,524.9 1087.1,519.5 1087.9,521.8 1088.8,523.0 1089.6,521.0 1090.4,518.8 1091.3,515.4 1092.1,523.9 1093.0,534.9 1093.8,504.9 1094.6,531.7 1095.5,540.0 1096.3,524.9 1097.2,542.6 1098.0,528.4 1098.8,525.8 1099.7,524.8 1100.5,525.1 1101.4,529.2 1102.2,520.2 1103.0,530.8 1103.9,526.4 1104.7,530.4 1105.6,545.4 1106.4,520.5 1107.2,525.5 1108.1,522.2 1108.9,506.7 1109.8,530.9 1110.6,531.3 1111.4,566.9 1112.3,531.3 1113.1,527.3 1114.0,544.8 1114.8,498.4 1115.6,526.0 1116.5,537.1 1117.3,521.2 1118.2,528.7 1119.0,542.2 1119.8,529.0 1120.7,526.4 1121.5,545.6 1122.4,517.8 1123.2,543.7 1124.0,530.1 1124.9,527.2 1125.7,534.3 1126.6,534.6 1127.4,555.6 1128.2,540.9 1129.1,535.3 1129.9,537.2 1130.8,532.9 1131.6,561.0 1132.4,534.4 1133.3,547.1 1134.1,539.0 1135.0,549.3 1135.8,533.8 1136.6,535.0 1137.5,534.2 1138.3,544.0 1139.2,553.3 1140.0,543.8 1140.8,535.7 1141.7,544.0 1142.5,540.8 1143.4,536.7 1144.2,529.4 1145.0,531.2 1145.9,540.1 1146.7,530.0 1147.6,537.4 1148.4,543.0 1149.2,539.0 1150.1,538.3 1150.9,533.3 1151.8,529.4 1152.6,522.2 1153.4,525.6 1154.3,537.5 1155.1,544.5 1156.0,543.8 1156.8,540.4 1157.6,544.1 1158.5,547.9 1159.3,555.1 1160.2,552.8 1161.0,535.1 1161.8,550.3 1162.7,544.3 1163.5,558.6 1164.4,560.3 1165.2,551.4 1166.0,555.0 1166.9,553.9 1167.7,557.8 1168.6,546.6 1169.4,545.1 1170.2,555.8 1171.1,569.5 1171.9,545.0 1172.8,552.0 1173.6,551.6 1174.4,548.6 1175.3,556.5 1176.1,540.2 1177.0,548.5 1177.8,549.8 1178.6,570.9 1179.5,555.0 1180.3,555.8 1181.2,586.0 1182.0,544.1 1182.8,553.2 1183.7,537.3 1184.5,540.9 1185.4,555.8 1186.2,561.1 1187.0,554.2 1187.9,551.8 1188.7,557.3 1189.6,570.8 1190.4,564.7 1191.2,555.0 1192.1,543.9 1192.9,551.1 1193.8,536.5 1194.6,556.8 1195.4,536.2 1196.3,568.4 1197.1,535.0 1198.0,532.9 1198.8,534.0 1199.6,536.1 1200.5,527.7 1201.3,529.1 1202.2,545.3 1203.0,548.4 1203.8,522.0 1204.7,529.4 1205.5,529.0 1206.4,539.7 1207.2,535.0 1208.0,530.9 1208.9,540.3 1209.7,535.9 1210.6,527.4 1211.4,542.7 1212.2,535.4 1213.1,549.3 1213.9,540.9 1214.8,527.9 1215.6,545.1 1216.4,541.1 1217.3,541.0 1218.1,539.4 1219.0,545.1 1219.8,523.8 1220.6,542.2 1221.5,559.4 1222.3,533.4 1223.2,529.6 1224.0,538.4 1224.8,539.8 1225.7,536.7 1226.5,538.2 1227.4,541.3 1228.2,544.1 1229.0,519.7 1229.9,534.3 1230.7,537.8 1231.6,512.6 1232.4,550.8 1233.2,536.5 1234.1,533.5 1234.9,532.5 1235.8,524.7 1236.6,519.3 1237.4,534.4 1238.3,542.6 1239.1,535.8 1240.0,511.6 1240.8,515.2 1241.6,530.6 1242.5,531.7 1243.3,532.4 1244.2,539.7 1245.0,541.2 1245.8,555.5 1246.7,529.5 1247.5,531.8 1248.4,557.8 1249.2,536.0 1250.0,519.1 1250.9,544.3 1251.7,535.2 1252.6,527.5 1253.4,531.6 1254.2,535.4 1255.1,537.0 1255.9,533.4 1256.8,539.6 1257.6,535.7 1258.4,556.2 1259.3,544.3 1260.1,527.6 1261.0,525.1 1261.8,545.3 1262.6,538.5 1263.5,559.0 1264.3,536.3 1265.2,530.1 1266.0,519.0 1266.8,543.3 1267.7,525.4 1268.5,540.5 1269.4,539.2 1270.2,542.9 1271.0,553.3 1271.9,533.8 1272.7,538.7 1273.6,543.6 1274.4,533.5 1275.2,528.8 1276.1,531.6 1276.9,551.9 1277.8,545.1 1278.6,534.6 1279.4,520.0 1280.3,542.2 1281.1,538.0 1282.0,536.3 1282.8,535.8 1283.6,540.7 1284.5,539.1 1285.3,552.6 1286.2,542.1 1287.0,550.4 1287.8,552.2 1288.7,550.8 1289.5,541.4 1290.4,542.5 1291.2,541.9 1292.0,521.0 1292.9,556.1 1293.7,533.6 1294.6,542.3 1295.4,544.7 1296.2,547.6 1297.1,542.3 1297.9,544.1 1298.8,549.6 1299.6,544.3 1300.4,545.1 1301.3,551.9 1302.1,528.5 1303.0,543.9 1303.8,521.8 1304.6,535.6 1305.5,523.4 1306.3,555.8 1307.2,543.1 1308.0,547.2 1308.8,553.9 1309.7,551.6 1310.5,563.1 1311.4,548.8 1312.2,553.5 1313.0,560.3 1313.9,538.8 1314.7,550.7 1315.6,538.3 1316.4,553.1 1317.2,549.1 1318.1,562.1 1318.9,553.3 1319.8,545.7 1320.6,564.6 1321.4,552.3 1322.3,528.9 1323.1,547.8 1324.0,549.9 1324.8,530.2 1325.6,541.7 1326.5,546.5 1327.3,546.8 1328.2,548.1 1329.0,544.9 1329.8,544.9 1330.7,546.7 1331.5,544.4 1332.4,550.4 1333.2,550.6 1334.0,524.7 1334.9,537.7 1335.7,534.5 1336.6,541.2 1337.4,540.7 1338.2,545.9 1339.1,544.9 1339.9,548.7 1340.8,542.8 1341.6,540.9 1342.4,559.6 1343.3,540.3 1344.1,536.9 1345.0,535.2 1345.8,524.4 1346.6,549.8 1347.5,542.3 1348.3,537.0 1349.2,547.5 1350.0,544.1 1350.8,539.1 1351.7,556.9 1352.5,551.3 1353.4,539.6 1354.2,539.5 1355.0,531.3 1355.9,528.0 1356.7,538.7 1357.6,534.3 1358.4,523.8 1359.2,548.6 1360.1,567.9 1360.9,547.8 1361.8,560.9 1362.6,558.0 1363.4,547.7 1364.3,544.8 1365.1,540.6 1366.0,543.5 1366.8,537.9 1367.6,530.4 1368.5,541.2 1369.3,544.7 1370.2,541.7 1371.0,545.7 1371.8,534.2 1372.7,497.4 1373.5,528.3 1374.4,530.6 1375.2,536.2 1376.0,532.0 1376.9,537.1 1377.7,525.6 1378.6,531.5 1379.4,496.3 1380.2,534.8 1381.1,542.3 1381.9,542.1 1382.8,543.3 1383.6,524.0 1384.4,559.4 1385.3,533.3 1386.1,524.6 1387.0,519.1 1387.8,517.5 1388.6,536.0 1389.5,536.0 1390.3,540.6 1391.2,537.2 1392.0,534.8 1392.8,526.2 1393.7,539.7 1394.5,505.3 1395.4,538.4 1396.2,527.6 1397.0,527.6 1397.9,548.3 1398.7,550.3 1399.6,540.9 1400.4,531.5 1401.2,536.9 1402.1,535.0 1402.9,528.0 1403.8,533.0 1404.6,523.9 1405.4,557.7 1406.3,533.9 1407.1,537.5 1408.0,534.8 1408.8,541.9 1409.6,540.7 1410.5,544.9 1411.3,516.7 1412.2,534.9 1413.0,542.1 1413.8,542.0 1414.7,547.7 1415.5,529.9 1416.4,539.7 1417.2,540.5 1418.0,542.2 1418.9,540.0 1419.7,546.4 1420.6,532.8 1421.4,529.6 1422.2,540.1 1423.1,532.4 1423.9,542.0 1424.8,544.8 1425.6,532.6 1426.4,543.6 1427.3,545.1 1428.1,545.4 1429.0,527.0 1429.8,550.0 1430.6,548.9 1431.5,542.1 1432.3,545.2 1433.2,549.9 1434.0,553.0 1434.8,541.7 1435.7,551.0 1436.5,544.8 1437.4,560.3 1438.2,554.0 1439.0,543.0 1439.9,542.8 1440.7,544.4 1441.6,559.5 1442.4,536.6 1443.2,544.4 1444.1,545.6 1444.9,546.6 1445.8,531.5 1446.6,544.0 1447.4,541.9 1448.3,540.1 1449.1,557.8 1450.0,533.2 1450.8,545.1 1451.6,537.4 1452.5,555.9 1453.3,543.2 1454.2,543.0 1455.0,539.8 1455.8,544.8 1456.7,552.8 1457.5,532.9 1458.4,547.9 1459.2,537.9 1460.0,541.0 1460.9,554.7 1461.7,534.0 1462.6,551.5 1463.4,532.9 1464.2,548.2 1465.1,550.4 1465.9,540.1 1466.8,555.8 1467.6,543.2 1468.4,548.3 1469.3,543.1 1470.1,553.2 1471.0,542.8 1471.8,542.8 1472.6,521.5 1473.5,557.4 1474.3,528.0 1475.2,542.7 1476.0,547.7 1476.8,542.4 1477.7,546.1 1478.5,542.3 1479.4,553.1 1480.2,536.5 1481.0,522.4 1481.9,533.2 1482.7,544.3 1483.6,545.4 1484.4,551.8 1485.2,561.2 1486.1,542.7 1486.9,552.0 1487.8,542.8 1488.6,542.2 1489.4,534.3 1490.3,555.0 1491.1,541.5 1492.0,547.5 1492.8,545.1 1493.6,578.1 1494.5,539.3 1495.3,545.9 1496.2,552.6 1497.0,536.7 1497.8,554.4 1498.7,546.4 1499.5,530.9 1500.4,570.9 1501.2,543.6 1502.0,545.1 1502.9,553.7 1503.7,571.5 1504.6,538.7 1505.4,532.8 1506.2,552.5 1507.1,549.7 1507.9,543.8 1508.8,547.9 1509.6,565.0 1510.4,554.5 1511.3,544.7 1512.1,558.4 1513.0,558.2 1513.8,549.1 1514.6,529.3 1515.5,542.5 1516.3,543.1 1517.2,552.4 1518.0,540.5 1518.8,541.9 1519.7,543.9 1520.5,525.2 1521.4,522.0 1522.2,517.3 1523.0,526.5 1523.9,532.6 1524.7,520.6 1525.6,538.2 1526.4,537.7 1527.2,536.2 1528.1,510.1 1528.9,537.5 1529.8,528.3 1530.6,511.4 1531.4,543.8 1532.3,549.3 1533.1,525.9 1534.0,541.0 1534.8,524.6 1535.6,540.1 1536.5,541.0 1537.3,540.6 1538.2,563.7 1539.0,541.4 1539.8,533.5 1540.7,552.2 1541.5,537.5 1542.4,541.2 1543.2,540.1 1544.0,546.6 1544.9,531.3 1545.7,539.9 1546.6,541.1 1547.4,543.2 1548.2,551.5 1549.1,539.7 1549.9,540.7 1550.8,545.1 1551.6,538.5 1552.4,543.4 1553.3,541.3 1554.1,545.3 1555.0,545.3 1555.8,547.5 1556.6,544.6 1557.5,541.5 1558.3,525.1 1559.2,548.5 1560.0,542.5 1560.8,521.6 1561.7,546.8 1562.5,545.1 1563.4,553.1 1564.2,546.5 1565.0,548.6 1565.9,556.1 1566.7,555.4 1567.6,543.3 1568.4,554.7 1569.2,570.2 1570.1,568.2 1570.9,564.6 1571.8,550.7 1572.6,576.3 1573.4,549.1 1574.3,555.3 1575.1,545.8 1576.0,559.3 1576.8,563.5 1577.6,563.1 1578.5,528.5 1579.3,586.7 1580.2,557.3 1581.0,566.7 1581.8,577.0 1582.7,569.1 1583.5,563.7 1584.4,564.5 1585.2,555.0 1586.0,563.0 1586.9,573.4 1587.7,569.3 1588.6,568.6 1589.4,568.7 1590.2,562.6 1591.1,587.6 1591.9,561.9 1592.8,557.7 1593.6,566.9 1594.4,556.7 1595.3,583.1 1596.1,564.4 1597.0,554.1 1597.8,544.0 1598.6,563.9 1599.5,547.6 1600.3,548.8 1601.2,560.6 1602.0,560.9 1602.8,567.1 1603.7,553.7 1604.5,567.8 1605.4,559.4 1606.2,566.4 1607.0,554.0 1607.9,548.3 1608.7,558.7 1609.6,555.2 1610.4,558.7 1611.2,563.9 1612.1,566.3 1612.9,549.2 1613.8,554.7 1614.6,555.5 1615.4,551.9 1616.3,557.7 1617.1,543.5 1618.0,551.6 1618.8,543.6 1619.6,557.0 1620.5,573.2 1621.3,548.4 1622.2,568.9 1623.0,553.4 1623.8,562.7 1624.7,566.7 1625.5,558.8 1626.4,561.8 1627.2,559.4 1628.0,575.0 1628.9,564.2 1629.7,554.5 1630.6,550.6 1631.4,544.0 1632.2,556.1 1633.1,547.3 1633.9,547.3 1634.8,571.7 1635.6,561.2 1636.4,556.2 1637.3,568.9 1638.1,555.6 1639.0,551.8 1639.8,559.9 1640.6,557.0 1641.5,543.6 1642.3,548.4 1643.2,554.8 1644.0,543.6 1644.8,573.0 1645.7,525.3 1646.5,567.7 1647.4,587.3 1648.2,554.5 1649.0,542.1 1649.9,561.4 1650.7,549.5 1651.6,556.3 1652.4,545.7 1653.2,541.6 1654.1,574.1 1654.9,530.3 1655.8,527.5 1656.6,557.1 1657.4,556.5 1658.3,543.7 1659.1,545.2 1660.0,552.2 1660.8,549.6 1661.6,550.5 1662.5,545.6 1663.3,576.2 1664.2,535.3 1665.0,548.8 1665.8,537.9 1666.7,542.4 1667.5,541.6 1668.4,555.2 1669.2,547.9 1670.0,543.2 1670.9,547.4 1671.7,546.3 1672.6,547.9 1673.4,541.6 1674.2,545.3 1675.1,547.1 1675.9,534.6 1676.8,522.2 1677.6,549.7 1678.4,542.2 1679.3,555.0 1680.1,528.5 1681.0,543.6 1681.8,551.1 1682.6,540.8 1683.5,548.4 1684.3,546.5 1685.2,546.1 1686.0,545.6 1686.8,567.8 1687.7,547.9 1688.5,542.5 1689.4,561.7 1690.2,544.5 1691.0,556.0 1691.9,554.8 1692.7,556.5 1693.6,558.5 1694.4,546.3 1695.2,535.2 1696.1,553.2 1696.9,553.8 1697.8,549.3 1698.6,563.2 1699.4,543.5 1700.3,556.2 1701.1,557.2 1702.0,522.5 1702.8,566.1 1703.6,554.8 1704.5,557.5 1705.3,548.0 1706.2,556.9 1707.0,558.5 1707.8,562.1 1708.7,533.3 1709.5,559.0 1710.4,560.8 1711.2,586.1 1712.0,563.9 1712.9,566.7 1713.7,561.0 1714.6,562.5 1715.4,596.0 1716.2,561.4 1717.1,602.0 1717.9,566.1 1718.8,580.9 1719.6,565.9 1720.4,574.1 1721.3,574.3 1722.1,563.0 1723.0,561.9 1723.8,584.1 1724.6,562.7 1725.5,573.5 1726.3,558.3 1727.2,566.9 1728.0,565.2 1728.8,563.0 1729.7,562.3 1730.5,588.6 1731.4,571.7 1732.2,568.4 1733.0,570.4 1733.9,577.9 1734.7,572.9 1735.6,560.8 1736.4,564.4 1737.2,580.7 1738.1,571.2 1738.9,571.7 1739.8,562.7 1740.6,561.6 1741.4,564.7 1742.3,567.5 1743.1,571.3 1744.0,568.5 1744.8,573.5 1745.6,569.5 1746.5,570.8 1747.3,586.8 1748.2,553.5 1749.0,572.8 1749.8,575.1 1750.7,563.6 1751.5,579.6 1752.4,560.9 1753.2,577.4 1754.0,564.1 1754.9,569.7 1755.7,569.2 1756.6,571.9 1757.4,573.0 1758.2,553.2 1759.1,577.9 1759.9,571.3 1760.8,583.7 1761.6,563.3 1762.4,570.1 1763.3,588.1 1764.1,573.2 1765.0,570.9 1765.8,570.1 1766.6,585.2 1767.5,535.1 1768.3,606.3 1769.2,569.1 1770.0,579.8 1770.8,568.9 1771.7,580.5 1772.5,550.7 1773.4,566.8 1774.2,577.8 1775.0,617.8 1775.9,568.7 1776.7,544.9 1777.6,577.0 1778.4,573.0 1779.2,554.0 1780.1,558.2 1780.9,569.1 1781.8,555.6 1782.6,591.2 1783.4,618.2 1784.3,578.0 1785.1,583.8 1786.0,564.7 1786.8,551.0 1787.6,577.3 1788.5,580.8 1789.3,576.1 1790.2,557.7 1791.0,534.9 1791.8,571.8 1792.7,556.0 1793.5,564.3 1794.4,570.2 1795.2,562.6 1796.0,595.1 1796.9,565.8 1797.7,572.8 1798.6,606.2 1799.4,576.4 1800.2,568.5 1801.1,580.0 1801.9,560.5 1802.8,553.3 1803.6,541.7 1804.4,576.9 1805.3,576.7 1806.1,577.3 1807.0,577.5 1807.8,574.9 1808.6,597.5 1809.5,572.4 1810.3,558.1 1811.2,566.3 1812.0,571.9 1812.8,577.1 1813.7,571.1 1814.5,573.5 1815.4,569.7 1816.2,581.6 1817.0,587.3 1817.9,572.1 1818.7,585.1 1819.6,567.6 1820.4,604.8 1821.2,573.8 1822.1,580.8 1822.9,579.5 1823.8,561.7 1824.6,579.6 1825.4,557.9 1826.3,578.2 1827.1,579.4 1828.0,598.1 1828.8,571.2 1829.6,561.2 1830.5,582.0 1831.3,576.4 1832.2,581.1 1833.0,575.6 1833.8,584.2 1834.7,571.3 1835.5,582.3 1836.4,588.8 1837.2,595.6 1838.0,580.6 1838.9,585.6 1839.7,605.8 1840.6,574.8 1841.4,596.5 1842.2,593.2 1843.1,613.5 1843.9,588.6 1844.8,588.6 1845.6,591.1 1846.4,587.5 1847.3,568.9 1848.1,593.8 1849.0,590.1 1849.8,593.6 1850.6,600.0 1851.5,592.1 1852.3,582.3 1853.2,609.2 1854.0,623.7 1854.8,588.2 1855.7,601.4 1856.5,595.0 1857.4,605.2 1858.2,571.4 1859.0,621.4 1859.9,614.1 1860.7,583.7 1861.6,603.3 1862.4,594.5 1863.2,589.4 1864.1,613.5 1864.9,607.9 1865.8,601.8 1866.6,603.2 1867.4,615.2 1868.3,596.1 1869.1,600.3 1870.0,592.1 1870.8,599.6 1871.6,589.4 1872.5,597.1 1873.3,604.1 1874.2,593.4 1875.0,602.5 1875.8,607.2 1876.7,599.8 1877.5,594.9 1878.4,591.9 1879.2,572.5 1880.0,601.0 1880.9,618.3 1881.7,582.5 1882.6,595.2 1883.4,591.2 1884.2,598.7 1885.1,591.8 1885.9,574.9 1886.8,569.5 1887.6,579.0 1888.4,571.1 1889.3,584.3 1890.1,560.4 1891.0,586.4 1891.8,591.6 1892.6,554.3 1893.5,599.7 1894.3,594.9 1895.2,557.3 1896.0,585.8 1896.8,554.6 1897.7,585.3 1898.5,567.6 1899.4,588.6 1900.2,568.7 1901.0,571.0 1901.9,616.3 1902.7,598.4 1903.6,593.7 1904.4,598.3 1905.2,583.0 1906.1,577.1 1906.9,588.0 1907.8,599.0 1908.6,599.2 1909.4,598.4 1910.3,592.6 1911.1,594.9 1912.0,600.5 1912.8,596.5 1913.6,587.9 1914.5,593.6 1915.3,610.3 1916.2,614.1 1917.0,577.7 1917.8,580.8 1918.7,574.4 1919.5,591.8 1920.4,604.4 1921.2,591.2 1922.0,587.1 1922.9,602.0 1923.7,583.6 1924.6,590.2 1925.4,601.2 1926.2,599.9 1927.1,576.9 1927.9,583.5 1928.8,585.6 1929.6,593.6 1930.4,590.5 1931.3,586.7 1932.1,583.3 1932.5,580.8" stroke="#00AB64"/>
</g>
<g fill="#FF0000">
<rect x="524.7" y="1145" width="46" height="46"/>
<rect x="850.8" y="1408" width="46" height="47"/>
<rect x="1456.2" y="1479" width="46" height="46"/>
<rect x="1713.8" y="1478.3" width="46" height="46"/>
</g>
<text class="t" x="205.14" y="2389.30" font-size="89.3" fill="#000" textLength="96.71" lengthAdjust="spacingAndGlyphs">30</text>
<text class="t" x="625.62" y="2389.30" font-size="89.3" fill="#000" textLength="96.71" lengthAdjust="spacingAndGlyphs">40</text>
<text class="t" x="1044.52" y="2389.30" font-size="89.3" fill="#000" textLength="96.71" lengthAdjust="spacingAndGlyphs">50</text>
<text class="t" x="1463.91" y="2389.30" font-size="89.3" fill="#000" textLength="96.71" lengthAdjust="spacingAndGlyphs">60</text>
<text class="t" x="1883.66" y="2389.30" font-size="89.3" fill="#000" textLength="96.71" lengthAdjust="spacingAndGlyphs">70</text>
<text class="t" font-weight="bold" font-size="117.7" textLength="766.7" lengthAdjust="spacingAndGlyphs" transform="translate(118.3,1510.1) rotate(-90)">Intensity (a.u.)</text>
<text class="t" font-weight="bold" x="961.97" y="2566.60" font-size="115.6" fill="#000" textLength="63.09" lengthAdjust="spacingAndGlyphs">2</text>
<text stroke="#000" stroke-width="2.2" class="s" x="1024.57" y="2566.40" font-size="110.7" fill="#000" textLength="60.89" lengthAdjust="spacingAndGlyphs">θ</text>
<text stroke="#000" stroke-width="2.4" class="s" x="1113.09" y="2566.80" font-size="111.6" fill="#000" textLength="42.15" lengthAdjust="spacingAndGlyphs">(</text>
<text class="s" x="1154.00" y="2555.20" font-size="74" fill="#000" textLength="29.50" lengthAdjust="spacingAndGlyphs">°</text>
<text stroke="#000" stroke-width="2.4" class="s" x="1183.34" y="2566.80" font-size="111.6" fill="#000" textLength="41.66" lengthAdjust="spacingAndGlyphs">)</text>
<text class="t" font-style="italic" x="1510.17" y="382.90" font-size="91.5" fill="#00AB64" textLength="375.10" lengthAdjust="spacingAndGlyphs">10Co-SiO</text>
<text class="t" x="1883.16" y="406.00" font-size="60.7" fill="#00AB64" textLength="36.49" lengthAdjust="spacingAndGlyphs">2</text>
<text class="t" x="1572.69" y="480.20" font-size="75" fill="#00AB64" textLength="290.40" lengthAdjust="spacingAndGlyphs">12.1 wt%</text>
<text class="t" font-style="italic" x="1550.99" y="896.30" font-size="82" fill="#0066DD" textLength="294.11" lengthAdjust="spacingAndGlyphs">1Co-SiO</text>
<text class="t" x="1844.12" y="917.90" font-size="56.4" fill="#0066DD" textLength="33.03" lengthAdjust="spacingAndGlyphs">2</text>
<text class="t" x="1592.87" y="992.70" font-size="74.5" fill="#0066DD" textLength="250.32" lengthAdjust="spacingAndGlyphs">1.2 wt%</text>
<text class="t" font-style="italic" x="1489.80" y="1356.50" font-size="82" fill="#FF4242" textLength="385.77" lengthAdjust="spacingAndGlyphs">impCo-SiO</text>
<text class="t" x="1874.04" y="1378.20" font-size="56.3" fill="#FF4242" textLength="32.52" lengthAdjust="spacingAndGlyphs">2</text>
<text class="t" x="1592.44" y="1451.40" font-size="74" fill="#FF4242" textLength="249.93" lengthAdjust="spacingAndGlyphs">1.0 wt%</text>
<text class="t" font-style="italic" x="1629.50" y="1985.60" font-size="81" fill="#505050" textLength="132.00" lengthAdjust="spacingAndGlyphs">SiO</text>
<text class="t" x="1759.23" y="2007.90" font-size="55.9" fill="#505050" textLength="33.70" lengthAdjust="spacingAndGlyphs">2</text>
<text class="t" x="1620.45" y="2078.60" font-size="73.5" fill="#505050" textLength="192.65" lengthAdjust="spacingAndGlyphs">0 wt%</text>
</svg>
</body></html>
